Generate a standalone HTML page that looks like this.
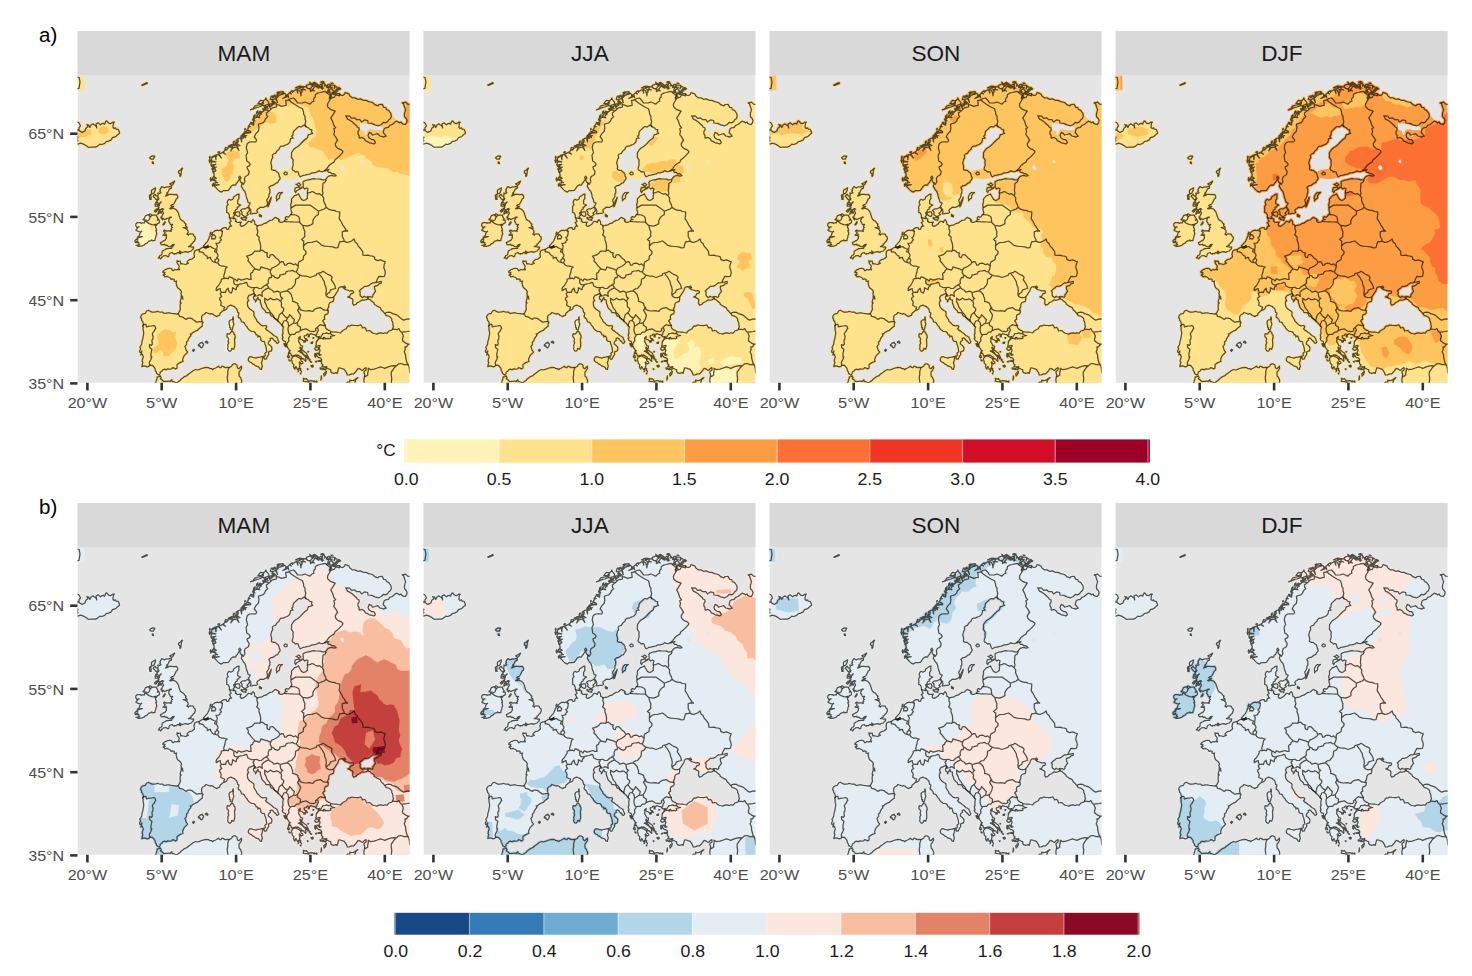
<!DOCTYPE html><html><head><meta charset="utf-8"><title>Seasonal maps</title>
<style>html,body{margin:0;padding:0;background:#fff}body{width:1472px;height:976px;overflow:hidden}svg{display:block}text{font-family:"Liberation Sans",Arial,Helvetica,sans-serif}</style></head><body>
<svg width="1472" height="976" viewBox="0 0 1472 976">
<defs>
<path id="land" d="M100.2,238.3 99.1,238.7 96.7,238.2 94.2,238.1 91.9,237.5 90.2,237.4 88.6,237.7 86.7,238.1 84.9,236.7 82.8,236.8 81.7,236.6 80.1,235.9 78.2,236.5 76.8,236.7 74.4,236.7 72.2,235.6 70.9,234.8 69.1,235.6 67.9,237.7 67.4,238.3 66,238.3 64.7,238.9 63.6,240.5 63.1,242.1 64,243.2 64.2,245.2 65.2,246 65.7,248.1 65.9,249.6 65.1,250.8 65.9,252.5 65.4,253.9 65.9,255.5 66.2,256.8 66.1,259 65.7,261 65.3,263.2 64.9,264.7 64.4,266.5 64.2,268.5 63.4,270.4 62.5,271.8 63.2,273.6 62.4,274.7 62,276.5 63.4,277.4 64.4,275.5 63.9,278 63.2,279.5 64.9,278.9 65.4,280.5 65.8,282 65.1,283.4 64.7,285.8 65.4,287.2 64.8,288.8 64.4,291.2 66.4,290.5 67.9,290.7 69.7,291.4 71.4,290.9 72.4,289.9 74.6,289.7 75.6,290.6 76.6,291.8 77.6,293.2 77.8,295.3 78.8,296.4 79.1,298 80.2,298.9 81.3,299.7 82.5,298.4 82.8,296.6 84.3,295.9 85.7,294.1 87.1,293.7 88.8,294.4 90.2,293.5 91.7,293.7 94.2,293.4 95.1,292.2 96.9,292.8 98.1,293.7 99.6,292.6 99.6,291.4 99.5,289.2 101.1,288 102.5,287.2 103.6,286.8 105.6,286.1 105.2,284.8 105.3,283.4 106.1,281.5 106.7,280.2 108.6,278.4 110.2,276.7 108.6,274.7 108,272.3 107.4,271 109.1,269.2 109,266.6 110.3,265.6 111,263.5 112.2,261.5 113.4,260.4 112.8,258.5 114,258.6 115.2,257.2 117.7,255.8 119.9,254.9 121.2,253.6 122.9,252.2 124.9,250.6 124.7,248.5 125.5,247.1 124.8,246.2 124.1,243.9 124.2,242.5 124.2,241 125.2,239.6 126.4,239.1 127.4,238.4 128.4,237.1 129.9,237.6 131.6,238.3 133.1,238.7 134.1,238.1 135.6,238.9 136.8,240.1 138.4,240.7 139.5,241.2 140.8,240.2 142.2,239.7 142.5,237.9 143.8,236.8 145.1,235.6 146.4,234.9 147.6,234.6 149.4,233.3 149.9,231.5 151.1,230.6 153.3,229.7 154.9,230.4 157,231.2 157.8,232.4 159.1,233.1 159.6,234.5 160.1,236.8 161.4,237.7 161.1,239.3 160.6,240.9 161.1,242 162.3,242.7 163.3,244.1 164.1,246.4 165.8,246.8 166.9,247.7 167.5,248.9 168.6,250.4 169.7,251.6 170.3,253 171.6,254.3 172.9,255.3 173.7,256 176.3,256.1 177.9,257.6 178.8,259.5 179.7,259.4 180.7,260.6 180.1,261.6 182.3,260.7 182.9,262.2 183.4,263.3 183.2,264.5 184.8,266.1 186.6,266 187.2,267.1 187.4,268.9 188,269.9 188.5,271.7 188.8,273.2 188.9,274.3 189.3,276.4 187.5,277.9 187.9,279.7 186.6,281.2 186.6,283 187.1,283.6 188.7,283.6 189.5,282 189.8,280.9 191.2,279.3 191.1,277.2 191.6,276.2 193.8,275.5 194.3,274.5 194.4,272.6 194.1,271.4 192.3,269.7 190.8,268.6 190.9,267.2 191.3,266 193,264.9 192.6,263.2 194.5,262.5 195.8,263.9 196.9,265.2 198.2,266 199,267.6 200.2,268 201.4,266.5 200.7,265.1 200,263.2 199.3,261.9 198,260.9 196.6,260.3 195,258.9 194,257.9 192.7,257 191,255.7 189.3,254.7 188,253.1 189,252.3 189.2,250.7 187.9,250.1 185.6,250.4 183.4,249.7 182,248.2 180.9,247.1 179.5,245.8 179.1,244.5 178.2,243.1 176.4,240.2 176.5,236.8 176.1,236.2 174.5,235.1 173.5,234.3 172.6,233.8 171.4,232.6 170.3,231 169.9,228.5 170,226 171.3,225.2 170.8,224.3 170,222.8 170.8,221.2 171.6,219.8 173,219.8 174.2,218.9 176.2,218.3 177.3,219.3 177.1,220.2 176.1,221 176,222.6 176.6,224.1 178.1,224.7 177.9,226.5 178.9,225 179.7,223.1 180.6,222 180.9,224.1 182.9,224.8 182.9,227.3 183.6,229.1 184.1,230.6 184.5,232.1 186.1,233.9 187.8,235.3 188.4,237.2 190.5,237.2 192,237.4 192.8,238.9 193.8,240.7 195.4,241 196.5,242.4 197.7,243.3 198.7,244.3 200.1,245 200.5,246.2 200.9,246 202.2,247.4 203.7,249 205.1,251 206.1,251.4 205.5,253.5 205.4,255.4 205.3,256.9 205.7,258.1 204.8,259 205,260.6 205.6,262.6 204.7,263 205.3,264.7 206.2,265.5 207.7,265.9 208.2,267.5 208.2,269 209.5,270.5 210.4,272.6 211.3,273.8 211.9,275 212.9,275.3 211.8,276 212.2,277.2 213.5,278.6 213.9,280.4 215.3,280.3 217.3,279.9 218.4,279.4 220.1,280.1 220.2,279.4 221.6,280.5 223.1,281.4 224.1,282.4 223,283.4 221.6,282.4 219.6,281.4 217.4,280.3 216.8,280.9 215.1,281.4 214.5,282.5 213.8,283.6 214.7,286 214.7,287.7 216.5,289.3 216,291.4 216.6,292.8 217.5,293.7 217.8,291.8 218.6,291.2 219,292.3 219.8,293.8 221,294.7 220.5,296.4 221.2,295.2 220.9,293.3 222.1,293 223.3,295.1 224,296 222.8,294.9 223.3,293.4 221.8,292.1 222.5,290.1 222.2,288.2 221.7,287 222.1,286.6 222.9,287.5 223.8,288.7 225.5,287.6 224.9,286.4 223.8,285.9 223,283.9 224.8,283.3 226.2,283.5 226.8,284.7 228.2,285.9 228.4,284.7 228,282.9 228.3,281.6 227,280.4 226,279.4 224.5,278 222.6,276.5 220.8,275.8 222.8,275.1 223.3,273.9 222.3,272.6 222.8,271.7 224,273.7 224.8,273 225.1,270.8 223.3,270.1 222.3,268 221.1,266 221.5,263.9 221.1,262.6 222.8,261.1 222.3,263 223.3,263.8 224.8,264.5 226,265.4 226.5,267 227.3,265.1 227.9,266.6 228.3,264.3 230,265.3 229.2,263.5 227.5,262.9 226.7,261.8 226.8,260.4 228.5,260.1 230,258.6 232,259.3 233.5,258.1 235.4,259.1 237.3,259.3 238.2,260.3 239.4,261.4 241.9,261.1 240.9,262.6 240.5,264.3 238.8,266 240.2,264.5 241.4,262.9 243.4,261.3 244.6,259.6 245.4,258.2 247.6,258.1 249.1,257.5 250.8,258.2 252.7,258 253,257.1 253.3,256.2 252,255 250.8,254.9 249.8,254 248.3,252.8 247.7,250.7 248,249.9 247,249.2 246.6,247.4 245.2,245.6 246.4,244.1 247.3,243.9 246.8,241.7 247.4,239.7 248.5,239 250.2,238.4 250.8,236.8 250.7,235.2 250,233.7 251.1,231.7 251.3,230.2 251.4,228.8 252.3,227.3 254.4,226.4 255.8,226 256.3,223.5 256.3,221.4 257.9,219.3 258.7,217.7 260.2,215.8 260.8,214 261.4,212.4 262.5,211.6 263.7,211.3 265.4,211.4 267.2,210.6 268.2,212.3 265.7,212.3 267,213.5 268.7,214.4 270.2,214.6 272.1,215.6 274.1,215.2 275.8,215.6 276.1,217.3 274.8,218.2 273.6,218.1 272.1,220.8 270.1,221.6 272.1,222 273.2,222.7 274.5,223.2 275.4,224.2 275.3,226 275.1,228.1 276.2,229.8 278.4,229 279.6,227.5 281,226.8 282.4,226.1 284.4,224.5 286.5,224.8 288,224.5 289.7,223.9 290,221.8 290.6,221 289.4,221.7 287.5,221.4 286.7,220.8 285,222.3 284,221.4 282.8,220.4 282.5,218.5 282.8,216.8 281.8,215.6 283.5,213.9 285.5,212.3 286.9,211 288.5,211 289.7,210.8 291.5,210.2 293.4,208.5 295.2,207.3 296.6,207.6 298.4,207.1 300.4,206.8 301.9,206.4 303.8,206 303.8,207.7 302.6,208.3 301.4,208.5 300.3,210 298.7,210.4 296.9,211 297,213.2 298.1,216 296.8,217.3 296.4,218.5 295.4,219.3 295.4,221 294.3,222.1 293,221.3 291.7,221.2 290.7,222.3 291.2,223.9 292.4,223.9 293.9,225.6 295.3,226.5 296.4,227.3 297,229.1 298.4,229.8 300.1,231 302.7,232.2 303.7,234.4 305.9,236.4 307.1,237.9 308,239 308.8,240.2 310.4,240.4 312.3,241.4 313.5,242.5 314.3,243.5 314.2,245.1 315,246.4 315.5,248.5 315.4,249.7 316,251.4 315.4,252.6 315,253.7 314.3,254.7 311.3,255.6 309.8,257.8 307.4,257.4 305.9,258.1 304.5,257.7 303.4,257.4 301.1,257.7 299.4,258.7 296.9,258.1 295.4,257.7 293.9,256.8 292.9,255.4 291.5,255.1 289.1,255.6 288.3,253.3 287.2,252 285,252.6 284.4,251.1 283.3,249.5 281,250.1 278.6,250.1 276.4,249.9 274.1,249.6 272.1,250.7 270.8,250.5 269.5,251.8 268.8,253.4 266.7,254.3 264.7,255.6 263.2,257.4 261.2,257.1 258.7,256.6 257.1,256.8 255.8,256.6 253.5,256.2 253.1,257.2 252.9,258.1 254.8,259.7 257.3,260.1 255.3,260.6 252.8,261 253.5,262.8 252.2,263.2 250.3,263 248.8,263.2 247.7,263.5 247.3,262 245.9,262.2 246.3,263.7 244.4,263 242.6,263 241.3,263.5 239.9,265.1 238.9,266.4 238.8,267.6 238.7,269.3 238.2,270.7 240.4,270.5 242.6,269.9 242.4,271.2 241.4,272.2 242.3,274.1 242.5,275.3 241.6,277.4 242.6,279.3 243.6,279.5 241.9,279.9 240.9,278.4 239.7,277.6 239.1,278.9 239.4,280.4 240.9,282.2 242.1,282.2 243.6,283.2 244.2,284.2 243.9,286.4 244.1,288.4 245.6,289.5 244.4,291.2 245,291.1 247.3,291.4 249.3,291.1 248.5,292.2 246.8,292.2 245.4,293.7 244.7,294 246.4,294.3 247.8,293.7 248.1,294.7 249.2,292.6 250.3,293 251.8,293.8 253.3,294.5 253.2,295.9 254,297.2 256,298 257,297.7 258.5,297.2 259.7,298 260.2,296.1 260.6,294.7 261.2,292.4 262.7,292.6 264.6,293.3 266.8,293.9 267.7,295.2 268.5,296.5 269.1,297.4 269.8,299.6 271.9,299.5 274.1,298.5 276.1,298.6 277.3,297.3 278.2,296.4 279.1,295.1 279.8,294.2 280.7,293 283,293.8 284.4,295 285.9,294.4 286.5,293.3 288.5,292.2 288.7,293.6 288.3,294.8 286.8,295.8 286.4,297 287.2,299 287.1,300.3 286.7,302.4 286.4,303.7 286.5,306.2 287,308 286.8,309.8 287.2,312.2 339.5,312.2 339.5,33.3 336.5,31.5 334.6,30.4 332.7,29.1 330.1,28.7 328.1,26.7 324.7,27.5 326.3,28.5 326.6,30.4 327.3,32.2 328.1,34.1 327.6,36 327.1,37.5 326.9,40 327.2,41.6 328.6,42.9 329.6,45 329.1,47.4 327.6,49.1 325.7,48.7 324.2,47.8 323.7,46.6 321.8,47.4 320.7,46.4 318.7,45.8 316.5,47.6 314.8,49.1 312.3,50 310.8,52 308.3,52.4 306.8,53.3 306.1,55.4 305.7,57.3 306.8,58.3 307.5,59.3 308.8,60.8 307.1,61 306.3,61.8 304.4,61 302.4,60.6 300.2,58.2 297.4,59.1 295.1,59.7 293.9,57.9 291.7,57 291.3,58.4 290.5,59.9 291.4,62.4 292.9,63.3 294.1,64.1 295.9,64.1 297.1,65.3 297.9,67.4 296.3,68.6 293.9,67.8 291.9,67.4 290,66.2 288,65.5 287,63.7 284.6,62 282,62.8 281.5,62.2 281.7,60.2 280.6,58.7 280.4,56.3 281.5,54.9 281.6,52.6 279.6,51.6 279,50.4 277.6,49.1 275.6,47.4 274.6,46.3 272.6,45 270,43.7 268.2,40.4 272.2,40.7 274.1,42.9 277.3,42.5 279.1,44.3 282.4,44.3 284,46.6 287.1,44.5 290.2,45.1 290.5,47.6 294.4,48 297.4,49.5 301.2,50.4 303.8,49.1 306.1,46.9 308,47.5 310.3,46.2 311.1,44.5 312.8,43.3 313.5,42 313.8,40.8 313.4,38.2 312.3,36.6 311.1,35 308.8,34.1 308.4,32.1 306.3,32 304.7,29 301.8,29.1 300.4,30.4 297.8,29.5 294.9,27.1 291.2,26.2 288.5,25 285.6,24.9 283,23.5 280.1,23.9 277.6,22.5 275.1,22.5 273.1,21.2 272.1,20 271.6,18.7 269.4,17.7 267.7,17.1 266.7,19.1 265.3,20.1 263.7,20 262,18.3 260,18.2 258,18.9 256,19 254.7,18.1 251.9,22 253.9,17.7 254.3,17.9 251.7,17.6 251.3,16.5 249.1,16.8 251,15.6 250.8,15.2 253.7,13.3 253.4,13.1 254.7,11.8 254.1,13.7 256.5,16.1 257.1,16.3 259.5,13.3 257.9,16.7 258.9,17.1 260.7,14.6 261,14.5 260.7,12.8 261.8,14.1 261.8,14.1 263.2,13.6 262.4,12.8 259.4,14.4 261.8,12.2 261.7,12.1 259.2,11.7 258,10.8 256.5,13.5 257.3,10.2 256.8,9.9 253.3,9.6 253.7,9.7 250.7,13.4 252.8,9.4 251.8,9 250.3,9.2 249.8,10.4 249.6,11 254,12.1 249.4,11.9 249.3,12.1 248.6,10.2 248.1,9.6 246.9,10.6 247.5,8.9 247.3,8.7 246.1,7.2 244.9,8.8 244.8,8.8 244.9,13.7 243.9,8.8 243.4,8.7 241.6,10.3 241.5,10.5 246.3,12.8 241.5,11.4 241.4,12.9 241.6,11.6 238.3,10.8 241.8,10.7 241.8,10.5 240.4,9.2 240.2,9.1 239.2,11.1 239.5,8.6 239.2,8.4 237.7,8.7 237.5,9.9 239.8,11.9 237.3,10.8 237.3,11.1 235.5,13.7 235.1,14.1 236.8,15.6 234.4,14.8 233,16.2 232.9,13.4 232.7,13.7 230.1,13.1 233.2,12.9 234,11.7 235,10.8 232.2,6.8 235.7,10.3 235.7,10.2 236.8,7.5 236.8,7.6 238.7,8.6 236.2,8.2 234.9,9.7 232.5,8.3 232.9,8.1 234.4,9.9 232.1,8.6 230.9,9.3 229,10 228.7,10.6 230,13 228.3,11.4 228.4,11.4 226.4,11.2 225.6,12.9 225.2,13.4 228.1,14.6 224.6,14.1 224.5,14.2 224.7,15.2 224.4,16.9 223.8,16.8 223.5,20.4 222.9,16.6 222.7,16.6 221.6,14.6 220.1,14.2 220,14.2 220.4,17.8 219.1,14.2 218.6,14.2 216.5,15.7 215.4,15.5 215.1,17 214.5,15.4 214.6,15.4 213.1,16.4 212.5,17 213.9,18.6 211.9,17.6 211.7,17.8 210.7,18.7 210.4,19 211.2,22.2 209.8,19.7 209.7,19.7 209.2,21.6 209.1,21.5 205.4,23.1 208.6,20.8 208.2,20.2 207.7,18.3 206.8,17.8 205.4,18.9 206,17.4 206.1,17.5 204.2,18.3 203,19.6 202.1,19.5 199.9,21.9 201.3,19.4 201.4,19.4 199.8,20.8 198.8,22.3 198.7,22.3 200,27.2 198.1,23 197.8,23.3 195.8,23.9 195.2,25.1 198.8,28 194.8,25.9 194.8,25.8 195.4,27.3 195.4,29.7 195.4,29.7 192.4,31.7 194.7,29.1 193.8,28.3 192.2,28.9 192.7,33 191.3,29.1 191.3,29.1 190.8,30.4 189.3,31.6 189.5,31.3 190.6,33.1 189.1,32.1 188.6,33 186.4,32.9 186.6,33.8 190.8,35 186.9,34.6 186.9,34.8 184.9,36.6 184.5,36.5 181.8,40.6 183.7,36.2 183.7,36.2 182.4,35.8 181.9,36.7 183.8,38.8 181.5,37.5 181.6,37.3 180.4,39.3 179.3,40.4 179,40.9 182.3,42.3 178.6,41.7 178.4,42 176.8,43.2 176.2,43.4 177.4,45.6 175.4,43.6 175,43.7 175.8,45.9 176.5,47.4 176.4,47.4 176.1,49.7 175.5,47.4 174.6,47.3 173,47 173,47.1 175,49.4 172.7,47.9 172.5,48.6 171.7,49.8 171,50.7 172.8,51.2 170.5,51.5 170.8,51.1 171,52.4 169.5,54.4 169.6,54.1 173.1,56.2 169.3,55 168.9,56.2 168.7,56.9 173.2,57.2 168.4,57.8 168.5,57.4 166.1,57.6 166.2,57.5 168,62.3 165.6,58.2 164.8,59.4 165.9,61.3 165.9,61.3 169,60.2 166,62.2 166.1,62.7 164.3,62.5 164.1,62.5 164.1,66.5 163.2,62.6 161.6,62.8 160.6,63.4 160.7,66.6 159.8,63.9 159,64.3 158.6,66.6 158.4,67.3 162.5,70.3 158.1,68.2 158.2,68 157.1,69.5 157.6,69.6 160.8,65.8 158.4,69.9 159.1,70 160.6,71.3 159.9,71.5 161.5,75 159,71.7 159.2,71.6 157.6,72 155.6,72.2 155.9,72.3 153.3,75.4 155,72 153.7,71.6 152,72.1 150.7,72.4 151.1,72.5 149,74.8 150.2,72.4 148,72.1 147.4,74 147.4,73.8 149,74.7 147.1,74.7 146.7,75.9 145.4,76.6 148.1,78.8 144.6,77.1 144.5,77.1 143.3,78.1 141.8,77.8 141.2,78.9 141.6,78.8 143.9,82.6 140.7,79 139.5,79.3 138.7,79.5 138.4,84.2 137.9,79.8 137.5,79.8 136.3,80.7 134.3,81.6 134.3,81.4 139.3,80 134.3,82.3 134.1,84.1 134,85.5 138.4,86.5 134,86.4 134,86.6 133.4,89.1 133.5,89.6 138.4,88.9 133.8,90.5 133.8,90.7 135.3,91.3 136.8,90.7 136.2,91.2 137.9,94.2 135.5,91.8 135.3,91.9 134.3,93.6 134.5,93.8 138.8,91.6 135,94.6 135.2,94.9 135.4,96.6 135.3,96.5 138.5,95 135.8,97.3 136.4,98.1 136.8,99.9 136.1,100.9 138.8,102.9 135.6,101.6 135,102.5 135.1,103.5 137.5,103.7 135.1,104.4 135.2,104.8 136.8,105.3 138.3,105.3 138.1,106.1 140.1,107.3 137.9,107 137.9,106.9 137.4,108.5 137,109.6 141.7,109.3 136.7,110.4 136.6,110.7 137.7,111.6 138.8,112.8 140.1,114.2 141.8,115.7 144,116.7 145.9,115.2 148.7,115.3 150.9,114.9 152.5,112.7 153.7,110.9 155.6,109.5 158.2,109.7 158.8,107.8 160,107 160.6,105.7 162,103.8 161.3,102 162.3,100.7 163.5,102.6 162.1,104.1 162.6,105 163.2,106.6 164.3,107.4 164.4,108.7 163.8,110.9 164.8,112.4 165.7,114.3 167.4,115.8 167.8,117.4 168.4,119 168.8,121.5 169.4,123 169.8,124 170.6,126.9 172.7,127.6 172,129.4 170.8,130.7 172,132.8 173.1,134.4 173.5,136.5 172.6,138.4 174.2,138.4 176.3,138 177.5,137.9 179.3,137.7 180.2,136.9 179.4,135.3 179.9,133.8 181.5,133.1 182.7,131.8 184.9,132 186.3,131.9 188.6,130.7 189.8,129.5 190.1,127.7 189.2,124.7 190.6,122.6 191.5,120.7 191.5,118.5 192.4,117.6 192.3,115.7 192.4,114.1 191.3,112 193.3,110.3 194.7,110.2 196.3,109.5 198.3,107.8 200.2,107.3 200.7,105.7 201.6,104.8 202.7,103.2 202.4,101.8 201.7,100.7 201.5,99 200.5,97.1 199.2,96.5 197.8,94.9 196.2,95 194.1,94.2 193.9,92.8 194.3,91.6 193.7,89.1 193.2,87.6 193.8,85.5 194.2,83.7 195.3,82.4 194.8,80 195.8,78.6 198,78 199.1,76 200.3,74.9 201.7,73.7 201.8,72.5 203.5,70.8 205.7,70.8 207.7,69.7 209.7,69.1 211.4,67.8 212.6,66.2 213,63.1 215.6,62.8 214.1,60.8 215.5,59.7 215.6,57.4 216.1,55.8 217.6,54.5 218.8,53.4 219.8,52.4 221.1,51.2 222.5,51.3 223.8,51.6 226.6,49.6 228.8,51.6 230.7,52.2 232.4,54 234.5,54.5 233.9,56.5 235.2,58.1 233.6,58.5 232.5,59.1 230.8,59.3 230.3,60.9 229.7,62.6 227.5,64.1 225.7,65.9 223.7,67.9 222.1,69.7 220.6,70.8 219.6,71.6 218.1,72.4 216.1,74.1 214.9,75.9 214.1,77 214,78.7 214.1,80.1 213.8,81.7 215.1,83.7 215.8,84.9 215.4,86.6 215.8,89 215.4,90.5 215,91.8 214.6,93.2 215,94.5 216.6,95.3 218.1,96.7 219.4,96.1 220.7,96.7 221.1,98.2 221.7,99.9 222.8,101.4 224.4,100.6 225.5,99.9 227.3,99.8 229.5,99.2 231.5,98.8 232.7,98.5 234.6,97.4 236.2,97.4 238.2,96.9 239.9,96.4 241.3,95.2 242.6,96 245.2,96.3 246.8,95.3 248.2,95.4 249.8,94.5 251.6,94.1 250.1,95.1 250.8,96.9 252.7,96.9 254.3,98.4 256.2,98.2 257.3,99.1 258.7,100.3 256.6,100.7 254.9,100.3 253,100.3 251.4,100.7 250.3,101.4 249.3,102.6 248.1,104.3 246.1,104.4 244.9,104.5 243.2,103.8 240.4,103.6 237.9,103.5 236.4,103.2 233.9,103.8 231.7,104.5 230.1,104.5 228.3,105.1 226.5,105.8 225.5,106.6 225.7,108.6 225.8,110.1 225.5,111.8 227.3,113.6 229,112.6 230.5,113.4 230,115.7 229.7,117.6 230.3,119.2 229.7,120.3 230,122.8 228,124.4 226,125.1 224,124 223,122.3 222.3,121.1 221.6,119.8 221.1,118.5 219.4,119.4 218.1,119.9 216.8,120.5 215.9,121.5 213.9,123.7 214.1,125.7 213.9,127.5 213.1,129 213.6,131.1 213.4,133.9 213.8,135.7 214.4,137.4 213.9,138.6 212.9,139.2 211.8,141.1 210.7,141.9 209.1,141.2 207.8,141.8 207.9,143.6 209.7,144 207.7,144.6 206.4,146.1 204.7,146.9 203,146.9 201.5,146.3 201,144.8 202.2,144.8 200.3,143.2 197.7,142 196,143.4 194.9,144.6 192.6,145 190.3,146.3 188.5,147.8 186.2,148.3 184.6,149.4 181.9,150 179.7,150.5 178.4,149.4 177.2,148.8 177.2,147.3 176.7,145.5 175.6,144.2 174.5,145.3 173.9,147.1 172.6,146.1 171,145.9 169.7,147.1 168.9,148.3 167.4,149.4 165.8,150.5 164.4,151 163,150.2 162.6,149 163,148.1 163.8,146.7 161.6,146.9 159.4,147.1 158.6,145.7 157.9,145.9 158.4,143.6 157,143.3 155.8,143.2 156.6,142.3 155.7,141.2 157.1,139.8 156.6,138.9 156.1,137.4 157.4,136.5 158.1,134.4 159.9,133.6 159.6,131.9 161.1,131.5 162,129.9 163.2,129.8 162.3,129.1 160.6,128.6 160.1,128.2 160.3,125.7 160.1,124.9 161.5,123 161.3,121.2 161.6,118.7 159.7,119 158.4,120 156.2,121.5 155.6,123.6 153.3,124.8 151.7,123.9 150.7,124.6 149.9,126.1 149.7,127.4 150.6,129.4 149.2,130.7 149.2,133.2 149.3,135 149.1,136.9 150.9,137.6 151.9,139.8 151.9,142.3 152.6,143.2 152.9,144.8 153.7,145.9 151.7,147.3 152.9,148.8 153.2,150.3 154.2,150.7 152.2,150.9 151.2,152.8 151.5,153.6 150.2,154 149.2,153.8 148.7,152.3 146.7,152.3 144.5,153.2 144,154.8 144.7,155.7 143.4,155.4 142.9,154.4 141.2,155.3 139.8,154.7 137.3,155.4 135.8,156.7 134.6,157.7 135.2,159 136.8,159.4 138.3,161.5 137.3,163.6 136.1,163.2 134.3,163.6 134.1,161.1 135.3,160.2 133.8,158.7 132.6,158.5 132.6,160.4 131.8,161.5 131.6,162.7 130.9,164.1 130.2,165.7 129.4,166.7 128.2,168 127.4,169 126,170.4 126.9,171.1 128.9,171.5 128,172 125.8,171.7 124.9,172.1 123.5,172.9 121.8,174 120.8,174.4 119.4,174.5 118.2,175.1 116.9,175.9 117,177.1 116.5,178.6 116.8,179.8 117,181.5 115.7,182.6 114.4,183.7 112.4,183.9 110.9,185.1 109.9,185.8 109.5,187.4 111,187.7 109.4,188.5 107.8,189.1 106,188.6 103.8,188.2 103.3,188.5 102.8,186.5 102.8,185.6 101,186 99.4,185.4 99.6,187.2 100.1,188.4 101.3,189.8 101.8,191.1 101.1,192.8 102.1,194.4 99.9,194.1 99,194.4 97.5,194.1 95.6,195.4 94.7,194.6 93.9,193.1 91.9,193 90.2,193.1 89.3,193.7 87.6,194.2 86.5,195.2 85.4,196 85.4,197 87.5,196.9 86.5,197.7 87.7,199 85.6,199.5 86.6,200.3 87.4,201.4 89.6,200.9 90.9,201.6 92.3,202.1 93.6,203.9 94.9,203.5 96.7,203.9 96.6,205.7 98.1,205.9 99.1,205.6 98.6,207.2 98.9,208.9 99.4,210.7 100.2,212.3 102.1,213.8 103.3,215.1 104.1,216.8 103.3,218.1 103.9,219.6 104.3,221.3 105.6,223.7 105,222.7 105.1,221 103.8,220 103.7,222.9 103.1,224.8 102.7,226.5 102.9,227.8 103.8,227.5 102.9,228.5 102.7,229.8 102.6,231.4 103,233.8 101.9,236 101.3,237.4ZM250.3,14.6 251.9,15.3 252.6,16.8 251,16.1ZM254.9,16.8 256.4,16.9 257.5,17.9 256,17.8ZM255.6,8.3 254.4,8.3 253.5,7.6 254.7,7.6ZM246.6,6.7 244.9,7.3 243.2,6.7 244.9,6.1ZM240.1,10.5 240.4,11.5 240,12.4 239.7,11.4ZM243.8,13.3 243.6,12.3 244.1,11.4 244.3,12.4ZM235.9,7.6 236.3,9.4 235.4,11 235,9.2ZM234.3,15.5 234.5,14.4 235.4,13.6 235.1,14.8ZM223.4,10.9 223,12 222,12.5 222.4,11.4ZM225.2,14.7 224.2,14.8 223.4,14.3 224.4,14.2ZM209.8,20.8 209.1,20.3 208.9,19.4 209.6,19.9ZM202.7,17.6 201,18.1 199.5,17.3 201.1,16.8ZM197.6,19.7 196.8,21.5 195.1,22.4 195.8,20.6ZM197.3,28.8 195.4,28 194.4,26.2 196.3,27ZM188.4,29.9 188.2,31.3 187.1,32.3 187.3,30.8ZM185.4,32.9 186.1,33.8 186,35.1 185.3,34.1ZM180.5,35.4 180.3,37.2 178.9,38.4 179.2,36.6ZM177.6,39.3 177.4,41.2 176,42.4 176.2,40.6ZM167.8,53 167.8,53.8 167.2,54.5 167.2,53.6ZM167.8,55.8 167.9,57.4 167,58.7 166.8,57.1ZM163.9,59.9 164.6,61.4 164.2,63 163.4,61.5ZM156.7,65.5 156.8,67.1 155.9,68.4 155.7,66.8ZM157.1,70.4 155.1,70.5 153.5,69.2 155.5,69.1ZM142.2,76.4 141.3,77 140.3,76.9 141.2,76.3ZM132.4,80.8 132.7,82 132.2,83.1 131.9,81.9ZM132.3,83.6 132.9,85.4 132.2,87.1 131.6,85.3ZM133.2,102.3 134,104 133.5,105.8 132.7,104.1ZM136.1,107.7 136.1,109.4 135,110.6 135,108.9ZM80.8,182.6 81.8,181.3 82.6,180 83.9,179.6 84.5,178.6 84.7,175.8 86.6,174.6 88.2,174.1 88.7,173.1 90.4,173.2 91.8,173.1 94.2,173 94.3,171.9 95.7,170.6 96.7,169 95,169.2 94.3,170.2 93.3,171 92.7,171.6 90.7,170.9 89.5,169.8 87.7,170.1 87.2,168.7 85.8,169.3 83.8,169.4 82.8,167.3 84.4,166.5 85.9,165.5 87.4,164.9 88.8,163 89,160.5 88.6,158.8 87.5,160.1 85.5,159.8 86.7,158.8 87.7,157.1 86,155.7 87.2,154.7 89,155.7 90,155.4 91.7,155.5 93.7,156.1 93.2,154.8 94.2,154.4 93.9,152.8 94.9,152.1 93.9,151.3 94.1,150.5 95.2,149 92.9,149.2 92.3,147.5 91.1,145.7 91.4,144.4 92.2,142.6 93.9,141.8 92.7,141.6 91.2,142.6 89,143.3 87.2,144.2 85.3,142.8 85,144.6 83.7,142.8 83.5,141.5 84.1,141.9 85,139.5 86,137.7 85.2,136.2 84.8,134 86.2,133.8 84.8,133.2 83.5,134 82.8,134.4 82.5,136.5 81.5,138 80.4,139 80.8,136.5 82,134.3 80.8,134 81.4,132.4 81.2,130.8 81.9,129.8 82.2,127.6 83.8,126.4 82.9,127.6 81.3,128.6 80.2,127.1 78.2,127.1 79.2,126.4 80.2,124.9 81.5,123.2 80.7,122.5 80.2,121.3 80.8,118.8 80.3,117.7 82.2,118 83.5,117.4 82.3,116.1 83,115.3 82.4,114.4 83.4,112.7 84.3,111.3 85.5,111.8 87.1,112.4 89.1,111.5 91.6,111.5 92.3,111 94.1,111.2 93.8,112.9 92,113.4 91,115.5 90.3,116.9 89.2,117.6 90.3,117.6 89.1,119.2 88.1,120.7 89.9,120 91.7,119 92.8,118.9 94.3,119 96.6,119.3 99.1,119 100.2,120.7 100.2,122.6 98.7,123.6 98.1,125.2 96.9,127.4 96.3,128.6 94.3,129.4 93.2,130.1 94.8,131.2 96.2,130.9 94.8,131.8 93.4,132.3 92.2,133.2 93.3,133.4 95.6,132.7 96.6,133.2 98.4,133.9 99.1,135.1 100.1,135.9 101.1,138.3 101.6,140.4 102,141.3 102.3,142.3 103.2,144.1 103.8,144.7 106,145.8 107.1,147.5 108.7,148.8 108.1,149.2 108.2,150.7 109.4,151.4 109.6,153.3 107.4,152.1 105.6,152.3 108.1,152.9 108.9,153.5 110.4,155.3 110.7,157 109.3,158.7 111,159.8 111.5,158.6 113.3,158.4 115.5,158.7 116.5,160.5 117.7,161.5 117.8,162.5 117.8,163.7 117,165.2 116.9,165.8 115.5,166.9 114.7,168.3 113.5,168.7 113.8,169.8 112.5,170.4 110.9,171.1 112.8,171.1 114.2,171.8 116.2,171.6 116,173 115.6,173.7 114.9,174.1 113.9,175.6 111.9,176.1 110.3,177 108.4,176.3 106.7,176.4 105.1,177.1 103.6,176.6 102.1,175.6 102.6,176.3 101.4,176.9 99.8,177.1 99.4,178.1 96.9,178.1 96.9,178.9 95.5,178.1 94.5,177.1 92.1,178.1 91.6,179.4 91.4,180.3 91,181.3 89.9,181.2 88.5,180.1 86.1,180.4 85.3,181.3 84,182 83.3,183.5 81.6,182.1ZM72.5,138.4 74.7,139.6 73.1,141.1 74.6,139.9 76.1,139.8 78.1,139.8 79,139.8 79.1,140.8 80.3,142.7 80.8,143.2 80.3,143.9 79.8,144.7 80.9,144.3 81.6,144.5 82,145.8 81.9,147.1 81,148 79.9,148.2 79.4,149.3 78.1,149 78.8,150 77.6,149.8 78.2,151.5 78.1,152.2 78.8,153.3 79.1,155 78.3,155.3 78.9,156.5 79.3,158.5 78.6,159.9 78.3,161.8 77.6,163.7 77.5,165.1 76.3,165.1 74.7,165.5 74.4,164.4 73.6,165.2 71.4,165.8 70.1,167 69.4,168 68,168.2 66.8,169.8 64.7,170.4 62.6,170.9 60.4,171.1 61.2,170.2 62.2,169.2 60.4,169.9 58.5,170 60.4,170 61.6,167.5 60,167 57.7,167.3 58.9,166.3 60.5,165.7 58.4,166.9 57.2,165.7 58.5,164 60.2,164.2 59.7,163 62,161.7 63.3,161.7 64.9,161.1 63,161.3 61.2,161.9 59.8,161.8 61.2,160.8 62.2,159.4 62.1,158.6 63.1,156.9 64.2,155.9 63.2,156.5 61.5,156.2 60.2,155.7 58.3,154.8 59,154 60,153 60,151.8 61.7,151.5 59.4,152.2 58.2,150.1 58.4,148.3 59.5,147.3 60.4,147.1 62.7,147.1 63.7,148 64.7,147.4 66.9,147.5 67.2,145.9 68,145.8 68.8,144.6 67.2,144.7 65.4,144.3 65.7,143.8 66.9,143.3 67.2,141.9 68,140.3 69.5,139.7 71.2,139.2 71.6,140.7 72.1,140.5 71.9,139ZM-3.5,68.3 -1,66.5 0.5,65.3 -0.5,64.1 0.5,62 -2.6,60.2 -5.4,63.2 -7.7,61.3 -9.9,59.5 -6.5,59.3 -3.5,57.9 -1.8,56.3 1,54.5 -1.5,53.4 -4.9,53.2 -9.2,53 -12.4,54.1 -11.1,52.4 -9.4,49.9 -7.9,48.7 -5.5,49.1 -3.9,47.2 -2,46.2 1.2,47.1 3,50.4 1.5,52.4 1.6,55.1 4.5,57 7.4,55.6 8.4,52.8 10.4,51.3 9.4,49.1 11.2,49.7 12.4,52 13.6,49.6 15.4,48.4 16.6,49.3 18.5,50.5 19.3,52.6 18.9,50.4 18.6,48.7 20.6,47.4 23,49.5 24.3,48.3 25.9,48 27.3,48.7 27.5,47.4 28.7,45.5 30,46.2 31,47.7 33.1,48.3 35.1,46.8 36.9,46.8 36,47.8 35.7,49.7 35.5,52 36.8,53.1 38.2,52.4 38.6,53.8 40.6,53.9 41.7,56 42.1,57.6 41.1,58.7 39.6,59.8 38.3,61.2 35,62.2 33.7,64.5 31.1,65.7 28.7,66.2 27.7,67.5 26.5,68.3 24.4,69.1 22.3,68.7 20.2,70.7 17.9,71.7 14.4,71.6 10.8,72 8.9,70.3 6,68.7 3,67.8 0.4,68.7 -2.2,68ZM171,282.9 172.1,281.5 174,281.3 175.2,281.9 176.8,282.3 178.6,282.7 180.3,281.9 182.2,281.7 184.6,281.2 186.6,280.8 185.2,282.1 184.9,284.3 184.7,285.6 183.9,287.2 184.5,289.4 184.9,290.9 184.2,292.5 184,294 182.7,293.7 181.5,291.7 179.7,290.9 178.1,290.5 176.4,289 175,288.5 173.9,287.2 172.4,286.6 171.4,285.9 170.7,284.7ZM149.7,258.3 152.2,258.7 153,257 154.6,256 156.2,256.8 156.4,258.7 157.3,259.3 157.5,260.6 157.8,262 157.1,263.2 157,265 157.2,267 157.3,269.9 156.8,272.2 156.2,273.9 154.3,273 153.7,274.9 152.9,275.7 151.9,275.8 150.7,274.7 150.2,273.5 150.6,271 150.2,269.7 150.9,268.3 151.3,267.5 150.6,266.1 151.1,263.9 150.2,261.7 149.5,261.6 149.4,260.2ZM155.6,241.4 155.9,243.9 155.5,246.1 156.4,248.7 155.6,251 155.1,253.1 154.6,254.9 152.7,253.7 153.2,252.5 152,251.9 152.3,250.4 151.6,248.6 151.8,247.5 151.4,246.6 152.4,245 153.3,244.4 155.1,244.1 155.3,242.2ZM225.9,303 228.1,303.7 228.9,303.2 230.3,304.9 231.6,305.8 233.6,305.2 235.4,305.5 236.5,306.4 236.7,305.5 238.4,306.3 239.4,305.5 239.3,307.2 238.4,308 236.6,307.9 234.5,308.2 232.8,308 231.6,308.6 231.5,307.2 230,306.5 228.7,306.3 226.4,306.1 225.7,305.8 226.1,304.5ZM269.1,307.6 270.4,306.6 272.4,306.8 272.2,304.7 274.2,305.2 275.7,305 277.1,304.5 278.7,303.2 280.5,302.2 278.4,304.2 277.3,307 278,308.3 275.7,308.8 274.2,310.2 272.6,311.3 270.6,311.2 269.6,310.1ZM171.5,132.9 172,134.6 171.5,135.9 170.6,136.7 169.5,137.8 170.8,139 168.8,140.5 168,141.5 165.9,140.5 164.2,138.8 164.6,137.4 164,135.9 162.9,135.4 163.8,134.3 165.4,133.4 167.8,133.4 170,132.1ZM159,136.8 160.2,136.5 161.6,136.4 162.1,137.5 162.6,138.9 161.6,141.1 159.8,140.7 158.1,139.3 157.3,137.4ZM163.6,142.9 163.6,141.9 164.9,142.8 166.8,142.1 169.3,142.3 168.3,143.7 168.4,145.1 167.1,144.5 165.3,144.4ZM181.9,139 184.1,140.3 183.8,141.5 181.9,140.8ZM198.8,122.8 199,121 199.7,119.5 200.8,118 201.7,117.1 203.3,117.5 205,117 204,117.8 203,118.9 202,120.2 202.2,121.5 201.8,123 200.3,123.8 199,125.5 199.3,124ZM190.3,131.5 191.6,126.1 193.8,121.8 193.1,124.9 191.1,130.7ZM218.3,117.2 217.3,115.9 217.4,114 217.8,112.4 219.8,112 221.1,111.5 222.9,112.9 224.5,111.7 224,112.8 222,113.7 220.6,114.6 219.1,115.3ZM218.3,108.9 219.8,109 221.1,107.5 222.1,108.2 223.3,109.3 221.8,110.7 220.1,109.9ZM206.2,98.2 207.9,96.4 209.7,97.4 209.7,99.1 207.7,99.5ZM223.1,275.7 224.8,274.5 226.9,276.4 228.8,277.6 229.8,279.7 230.9,281.8 231,283 230,283.4 229.3,281.2 228.3,280.1 226,279.1 225.4,278.2 224.8,276.8 223.8,276.1 222.2,276ZM237.2,273 238.9,271.5 240.9,272 240.9,274.3 238.9,275 237.3,273.7ZM237.3,278.4 237.9,278 238.7,280.5 237.9,281.8 237.3,280.9ZM240.7,285.4 243.1,284.9 242.9,285.9 240.9,285.9ZM246.3,298.4 249,295.9 248.3,298.8 246.6,300.7ZM242.6,292.4 244.6,292.6 242.9,293.8ZM233.2,267.6 235.2,266.4 234.9,268 234,268ZM230.7,260.1 231.7,260.1 231.7,261.4 230.7,261.4ZM235.2,262.4 236.4,262.2 235.9,263ZM209.9,281.4 210.9,279.1 212.1,282 210.9,282.4ZM211.4,284.3 212.6,285.1 212.9,285.5 211.7,285.5ZM206.4,268.2 207.9,268 207.7,269.7 208.7,271.4 207.7,271 206.7,269.3ZM210.9,278 211.7,276.1 211.9,278ZM231.5,283.2 232.7,284.3 232,285.5ZM234.9,289.7 235.9,290.5 235.2,291.8 234.8,290.9ZM233.5,290.1 234.3,290.5 234,291.5ZM229.7,293.4 230.7,293.4 230.2,294.3ZM233,285.9 234.2,286.8 233.5,287ZM237.9,286.2 239.7,285.7 238.4,286.8ZM222.8,298.4 223.5,297.2 223.3,298.6ZM243.4,304.7 243.9,300.5 244.1,303ZM230.5,276 231.2,276.4 230.7,276.8ZM72.1,82.4 74.4,80.5 77.3,80.7 75.8,83.7 73.4,83.7ZM74.6,86.6 75.6,86.4 76.1,88.2 75.1,88.1ZM102.6,101.1 103.3,100.2 103.6,98.6 103.8,96.6 104.1,94.5 105.1,92.8 104.1,93.2 102.6,94.9 101.1,95.7 100.9,97.4 102.4,98.2 102.3,99.7ZM92.4,108.2 94.7,107.4 95.9,106.3 97.2,105.7 96.5,107.1 95.7,108.6 94.2,109.9 92.7,109ZM78.1,112.4 77.6,114.9 77.1,116.2 76.3,117.8 74.4,118.6 73.9,117 74.1,114.9 75.3,114 76.5,113.3ZM73.4,119 73.6,124 72.4,124 71.9,119.9ZM77.8,119 78.6,120.3 80.4,121.2 81,122.8 79.3,124.6 77.8,123.3 77.1,122.1 75.6,121.1 76.3,119.9ZM77.6,130.7 77.8,128.2 80.8,129.4 80.1,130.7ZM76.8,135.7 78.6,133.8 79.1,136.1 77.8,136.7ZM78.8,134.4 80.8,132.2 79.8,134.9ZM82.5,135.7 83.8,136.1 83.8,137.8 82.5,137.4ZM85.3,149.4 87.5,146.3 87.7,147.3 86.2,149.4ZM101.2,177.6 102.6,176.7 103.7,177.5 102.6,178.4ZM173,34.5 175.5,33.3 177,30.8 179.2,30 181.4,29.6 183.4,29.1 185.4,28.3 185.4,30.1 183.4,30.8 181.3,31.6 179.4,32 176.9,33 175.5,33.7 174.4,33.9ZM184.4,29.1 185.9,27.9 185.9,25.4 187.7,24.2 188.4,22.5 188.9,24.2 190.3,25.8 191.2,26.8 191.3,28.3 189.8,29.1 188.4,29.6 186.2,30.6ZM180.4,28.3 182.9,25 186.4,25.4 183.9,28.3ZM192.8,24.1 193.8,20.8 197.8,20.4 198.8,22.9 195.3,24.1ZM199.3,20 201.2,16.6 205.7,16.2 204.7,19.1ZM218.1,12.5 222.1,10.7 225.5,11.2 222.6,12.9ZM234.5,8.3 236.9,6.9 238.9,8.1 236.4,8.9ZM150.7,70.8 154.2,69.5 153.7,71.2ZM132.6,158.2 133.3,156.7 133.1,158ZM-5,0.8 1.7,2.1 2.5,6.7 1.5,12.9 -5,13.7ZM64.2,9.6 69.4,7.1 69.9,7.9 64.9,10ZM76.3,313 76.4,310.2 77.8,308 78.6,306.3 79.2,304.1 79.6,302.7 79.7,301.4 80.3,301.5 81.7,301.2 82.8,300.5 83.6,302.2 82.8,303.4 85,304.7 86,306.3 88.2,305.9 89.6,305.9 90.9,305.6 92.7,306.3 93.6,305 94.4,304.3 94.7,306.3 96.2,306.3 98.1,307.2 99.9,307.2 100.9,306 102.2,305.5 103.8,303.6 105.9,302 107.7,300.9 109.5,300.3 110.8,298.9 112,298 114,296.7 115.5,295.3 118.1,294.1 120,294.6 122,293.9 124.2,293.1 125.2,292.8 126.4,292.4 128.4,292 131,292.2 132.2,293.2 134.2,293.3 135.3,294.3 136.2,293.4 137.6,292.8 139.4,291.9 141.1,290.7 141.7,291.7 143.2,292.4 144.6,290.7 146,291.2 147.6,292.2 149.7,291.9 150.9,292.2 152.4,291.7 154.3,290.8 154.7,289.4 156.2,288.5 157.9,288.5 159.6,289.9 159.6,291.4 160.1,292.6 161.3,293.4 162.9,291.9 163.8,290.7 164.2,292.6 163.1,294.7 162.3,295.9 161.6,296.3 161.5,299 161.8,301.1 162.7,301.5 163.8,303.8 164.3,306.1 163.7,307.3 163.3,308.8 163.7,310.8 163.1,313Z"/>
<path id="isl0" d="M120.7,269.7 122.4,268 123.8,267.1 124.9,266.7 124.5,267.6 126.2,268.7 125.6,269.9 125.3,271.2 124.2,272.5 122.9,271.7 122.2,270.1 121.5,270.8ZM127.9,266.4 129.4,265.8 130.5,267.2 130.1,267.9 128,267ZM115,275.1 116.2,273.9 117.1,274.5 116,276Z"/>
<path id="lext" d="M267.7,39.1 282.5,42.5 297.4,46.6 310.3,45 315.2,42.5 318.2,46.6 309.8,55.8 309.8,63.3 299.9,69.1 287.5,68.3 279.1,64.1 278.6,54.1 270.1,45.8ZM202.2,97.4 206.2,95.7 214.6,94.9 220.6,97.4 221.1,101.1 214.1,102.4 207.2,101.6 202.7,100.7ZM-2.5,0.4 5.2,0.8 5.5,13.3 -2.5,14.2ZM240.9,263.9 244.9,263.9 254.3,263.9 257.7,261.4 255.8,257.2 247.8,256.8 243.9,259.7ZM298.1,205.6 304.8,204.8 304.8,208.9 298.4,211.4Z"/>
<path id="lexb" d="M-2.5,0.4 5.2,0.8 5.5,13.3 -2.5,14.2ZM240.9,263.9 244.9,263.9 254.3,263.9 257.7,261.4 255.8,257.2 247.8,256.8 243.9,259.7ZM298.1,205.6 304.8,204.8 304.8,208.9 298.4,211.4Z"/>
<path id="bord" d="M65.1,250.8 66.8,249 68.4,248.9 68.9,251.4 70.9,250.9 73.4,250.6 75,250.4 76.3,250.1 77.6,251 78.3,253.1 77.2,254.3 76.8,255.6 75.9,256.6 74.8,258.1 75.6,261.4 75.3,263.9 74.4,264.7 74.7,267.2 74.8,268.9 73.8,269.9 71.9,269.3 72.3,272.4 74.4,273.9 73.9,276.3 73.5,277.9 73.4,281.4 74.4,281.4 73.3,284.2 71.9,286.8 71.9,288.4 72.4,289.9M100.2,238.3 101.5,239.5 102.1,241 103.5,241.2 105.3,241.8 107.2,243.2 109,243.9 110.3,242.8 112.5,242.7 114.3,243.2 116.2,244.7 117.7,245.6 119,246.8 122.5,246.3 124.8,246.2M146.4,234.9 146.5,233.2 147.2,231.8 145.4,231.1 143.2,229.8 143.7,227.3 143.1,225.3 142,223.9 142.4,222.3 144.2,221 143.3,219.9 142.8,218.1 144,217.1M144,217.1 142.8,214.8 142.8,213.1 140.7,214 138.8,215.2 138.6,213.7 139.3,211.9 141,210.2 142.4,207.9 143.7,205.6 143.7,203.9 144.9,203.3 146.7,203.3M146.7,203.3 146.2,200.7 146.7,199 147.4,196.9 147.7,194.8 148.1,193.2 149.7,191.7 147.9,191.2 146.2,190.6 144.5,190.8 142.3,189.8 141.2,189 140.6,187.5M140.6,187.5 139.1,187.4 137.8,187M137.8,187 135.8,186.5 134.3,185.1 133.1,183.1 133.1,181.9 131.4,182.2 129.9,183.1 129.6,180.6 128.2,180.2 126.9,179 126,177.7 124.9,176.9 123.6,176.4 121.9,176.5 121.7,174M125.8,171.7 127.2,172.6 128.4,173.1 130.1,171.7 131.5,171.4 133.3,171.1 134.3,172.3 136.5,173.1 138,173.6 137.5,175.1 137.1,176.3 138.9,176.9M138.9,176.9 140.3,179 140.5,180.6 139.4,182.1M139.4,182.1 138.8,183.6 137.5,184.4 137.6,185.5 137.8,187M139.4,182.1 140.5,183.5 141.3,184.8 140.5,186.3 140.6,187.5M138.9,176.9 139.2,175.5 139.3,173.1 139.8,170.6 139,169 138.5,167.9 140.5,167.7 142.3,167.3 142.5,165.7 144,164.4 143.3,163.4 142.3,162.3 144,161.1 144.7,158.3 144.7,156.5 144.7,155.7M151.9,142.3 154.1,142.7 155.9,143M179.7,150.5 179.4,153.5 180.4,155.7 180,158 179.2,159.4 180.7,160.9 181.7,161.9 181.4,164.4 182.2,166.1 182.9,168.6 183.2,171.5 182.9,174.2 182.5,175.9M182.5,175.9 179.9,175.6 177.2,175.8 176,177.3 174.3,179 171,180.2 169,180.6 170.3,182.2 171,184 170.5,185.6 171.9,186.8 173.5,189 175.1,191 177.6,193.4M177.6,193.4 175.7,195 174.9,197 173.5,197.7 173,199.1 173.5,201 173.3,202.2 173.7,203.9 171.1,203.9 169.5,203.1 166.7,203.9 163.6,204.8 162.3,203.9 160.8,203.5 159.6,205.6 158.1,204.2 156.6,203.7M156.6,203.7 154.6,202.5 153.2,201.7 151.7,201.4 150.7,203.4 148.7,202.8 146.7,203.3M156.6,203.7 156.2,205.8 156.4,207.7 157.5,208.9 159.1,209.4 160.9,209.2M144,217.1 146.4,216.7 148,217.1 148.6,214.9 150.7,212.7 150.9,214.4 151.6,216.4 153.7,217.8 154.8,215.3 155.1,212.3 157.2,213.6 158.6,214.4 158.8,212.9 159.4,211.4 160.6,210.6 160.9,209.2M160.9,209.2 163.1,208.5 166.1,208.1 168.1,207 169.5,207.4 169.8,208.8 170.5,210.6 173.9,212.3 177,212.1M177,212.1 176.5,213.9 175.5,214.8 176.5,216.8 176.6,218.3 177.9,219.8 177.1,219.8M177,212.1 179.7,212 181.4,213.1 184.1,212.9 186.6,210.6 187.6,210.3 188.9,209.2M188.9,209.2 190.8,208.1 190.8,206.4 190.6,204.8 191.2,203.8 191.8,202.3 193.8,202.3 194.1,199.8M194.1,199.8 192.7,197 193.1,194.8M193.1,194.8 191.4,194.3 190.3,193.5 187.2,192.8 183.4,191.5 183,193.2 181.9,194.8 179.3,193.9 177.6,193.4M182.5,175.9 183.7,174.9 184.9,174.8 186.4,175.9 187.4,176.9 188.8,177.2 190.1,177.7 189.3,179.4 190,181.6 191.8,182.3 192.3,181 192.8,179.4 195,179.1 196.8,180.6 197.8,181.8 198.5,182.7 200.9,184.3 202.5,187.1M202.5,187.1 201.3,188.8 198.8,190.6 196.4,191.8 194.3,192.7 193.1,194.8M202.5,187.1 204.2,186.2 205.7,186.5 206.7,188.3 207.2,189.8 208.7,189.8 210.2,188.1 211.9,187.8 213.6,187.9 216,189.4 218.1,188.5 219.3,189.6 220.8,190.8M194.1,199.8 196.3,200.6 197.3,201.9 200.4,202.9 202.2,201.4 202.5,199.4 204.5,199.3 207.7,198.5 208.7,196.4 210.7,195.6 212.9,195.4 215.4,195 216.9,196.3 218.8,196.5M218.8,196.5 220.1,193.9 220.8,190.8M220.8,190.8 220.7,188.1 221.6,186.5 223.6,185.3 225.7,184.1 226,180.6 227.1,179.8 228.5,178.1 228.5,176.1 226.1,173.7 226,170.6M226,170.6 226.1,168 226.3,165.7 224.9,164.8 224,164 226.1,162.4 227.5,160.7 227.1,158.7 227.5,156.5 226.1,153.2 225.5,150.3M225.5,150.3 223.5,148.3 222.1,146.8M222.1,146.8 216.9,146.6 213.3,146.4 209.8,146.3 206.4,146.1M222.1,146.8 222.1,145.1 221.8,142.8 221.1,141.1 218.2,139.6 214.6,139.2 212.9,139.2M225.5,150.3 227.4,150.2 230,150.7 233.4,149.4 235.4,148.2 235.4,145 236.9,142.3 238.6,140.5 240.9,139 240.9,137.2 241,135.9M213.4,132.6 215.2,131.5 218.1,129.7 221.1,129.7 224.5,129.7 227.6,129.7 232.5,129.7 234.6,131.2 236,132.2 238.7,134.1 241,135.9M241,135.9 244.4,134.4 246.7,133.6 248.7,131.9M248.7,131.9 248,129.5 247.2,128 246,125.2 246.3,122.4 244.6,120.5M244.6,120.5 242.2,118.3 240,118.7 237.9,117.8 236.3,116.8 234.5,116.1 232.3,117.3 229.7,117.6M244.6,120.5 245.2,118.9 245.4,117.4 244.9,114.9 245.1,113.2 245.3,110.6 245.4,108.2 247.7,106.6 248.6,104.9 248.1,104.3M248.7,131.9 250.9,133.7 254.8,134.9 256.9,135 258.9,136.1 262.2,136.5 262.2,139.1 261.7,143.2 263.1,145.4 264.5,147.8 265.3,149.7 266.7,151.5 268.1,154 270.1,155.7 267.3,155.4 264.7,156.5 264.8,158.8 264.9,161.4 266.3,163.8 266.7,165.7M226,170.6 227.9,168.6 230,167.3 231.9,167.1 234.5,166.9 237.2,166.1 239,165.6 241.8,167.5 243.9,169.8 247.2,170.7 251.3,171.1 255.2,171.4 257.9,172.5 260.5,172.3 261.4,168.6 262.5,166.1 264.3,166.3 266.7,165.7M266.7,165.7 269.1,167 271.2,166.8 274.1,165.6 276.6,163.6 277.6,166.5 279.6,168.2 280.7,170.7 283,173.1 285.1,175.9 285.5,179.8 288.4,179.9 290.6,179.8 292.6,180.5 294.9,180.6 297,181.7 297.4,184 300,185.2 303.3,184.5 306,185.8 307.8,186.5 306.7,189.2 306.3,192.3 307.2,194.3 307.8,196.9 307.5,199 306.8,201 304.7,201.2 301.4,201 299.7,204.1 298.4,207.1M218.8,196.5 220.5,198.5 222.6,199.8M222.6,199.8 224,200.2 226.1,200.6 228.7,200.6 232.5,202.1 235.3,201.1 238.9,199.8 239.2,198.4 241,197.6M241,197.6 243.4,197.3 245.4,195.9 247.2,196.9 248.8,198.1 250.9,199.3 253.3,200.2 254.7,201.9 253.8,204.4 255.8,207.2 257.3,209.8 257.8,211.9 258.2,213.1 255.8,213.6 252.8,214.8 252.3,216.8 249.6,218.7 248.8,220.8M241,197.6 242.5,199.8 243.9,201.4 245.4,203.9 246.8,206.4 247.3,209.6 248.3,211.4 248.9,215.4 248.3,217.7 248.8,220.8M248.8,220.8 250.1,221.5 251.8,222.3 254.5,222.3 256.3,221.4M222.6,199.8 221,202.5 218.1,203.9 217.9,207.1 217.2,209.5 215.8,211 214.1,213.1 211.3,213.8 209.5,215.4M209.5,215.4 205.7,216.3 202.7,217.1M202.7,217.1 200.1,215.7 196.3,216.8 194.7,214.8 192.8,213.9 191.3,212.5M191.3,212.5 190.2,210.7 188.9,209.2M191.3,212.5 188.4,213.7 186.6,214.8 184.5,216.8 184.5,219.2 184.9,221 183.2,219.8 181.4,219.3 180.6,220.1 178.9,220.6 176.5,220.8M200.4,245.1 198.4,243.7 196.5,242.2 196.1,240.4 194.8,238.9 192.9,237.1 191.8,234.7 190.6,233.5 189.3,231.4 188.4,228.5 187.1,226.4 187.3,225 187.1,222.8 188.6,223.7 189.8,224.8 191.5,224 192.8,222.7 195,224.2 197.5,224.3 199.1,223.5 201.2,224.1 202,225.2 203.3,225.8 204.1,228 203.7,229.8 204.2,231.7 206.2,233.1 206.1,235.2 204.5,237.2 202.7,238.5 201.7,239.7 201,242.1 200.4,245.1 200.8,246.2M202.7,217.1 202.9,219.7 203.2,221.4 205.2,223.1 203.9,223.7 203.3,225.8M209.5,215.4 211.5,216.6 213.7,219.1 214.3,221.3 215.1,223.1 215.1,224.4 215.1,226 217.8,226.7 220.3,228.1 220.4,229.7 221.4,231.2M221.4,231.2 221.1,233.4 220.1,234.7 221.4,237 223.1,239.7 222,243.6 219.9,247.1M219.9,247.1 217.8,247.9 216.1,247.6 213.8,249.1 211.2,250.8M211.2,250.8 210.5,247 208.7,245.2 208.5,245.1 209.4,244 209.9,242.7 211.4,241.1 212.1,239.3 214.1,241.2 215.1,242.7 216.9,244.1 216.5,245.6 216.1,247.6M209.9,242.7 207.5,241.2 206.2,239.7 205.4,238.5 204.5,237.2M208.5,245.1 206.2,245.6 205.7,247.1 205,248.1 204.9,249.5 205.1,251M211.2,250.8 210.5,252.8 210.7,255.6 211.1,257.2 211.9,258.9 213,259.3M213,259.3 211.1,262.9 211.4,265.5 210,267.2 209.2,269.3 208.2,269M213,259.3 215.3,259 217.1,258.9 219,256.7 221.1,256.8 222.7,255.2M222.7,255.2 222.9,253.3 223.1,251.8 220,249.8 219.9,247.1M222.7,255.2 225,254.2 229,253.5 232,255.7 234.5,256 236.3,256.3 238.4,255.1 238,253.4 239.7,252.1M239.7,252.1 240.3,253.2 240.9,255.1 239.6,257 239.4,258.5 238.2,260.3M239.7,252.1 240.7,250.9 242.9,249.3 246,250.3 248,249.9M221.4,231.2 222.2,232.3 222.6,234.3 225.6,235.2 228,235.6 231.7,235.3 235.4,236 237.2,233.8 239,233 242.9,232.2 246.2,234.5 248.2,234.8 250.7,235.2M246.8,95.3 249.5,93 251.3,90.4 252.8,89.1 254.4,87.8 256.4,86.7 257.7,84.1 259.5,83 261.6,81 264.2,78.2 265.2,76.9 265.4,75.8 263.5,74.3 260.6,73.2 258.3,70.8 257.7,68.7 258.9,66.3 260.2,64.9 258.3,61.8 256.3,59.1 257.1,56.2 256.3,53.3 258.2,52.4 256.2,49.7 255.6,47.3 254.7,45.2 253.3,42.5 255.5,39.3 257.7,35.8 254.9,34.7 252.9,33.9 250.3,31.6 250,30.1 250.1,28.7 251.1,26.6 252.5,24.6M252.5,24.6 252.9,23.4 254.3,22.5 256.6,21.9 258.2,19.6 260,19.7 262,20.4 262,18.3M252.5,24.6 251.8,22.9 253.3,21.7 254.3,20.8 252.2,19.6 249.8,17.9 248.9,16.9 247.8,16 245.2,16.5 242.9,17.1 240.7,17.5 237.9,19.1 237.7,21.6 236.4,22.9 236,24.3 236.4,25.8 234.1,26.9 232.5,28.7 230.5,27.9 227.5,26.6 224.9,27.4 223.2,27.6 220.1,27.5 218.7,25.4 216.1,22.6 213.5,23.1 210.9,24.5M210.9,24.5 212.2,25.1 213.1,26.2 215.5,27.8 218.1,29.6 221.4,31.6 225,33.3 226,36.5 226.3,39.1 227.5,40.8 227.5,43.3 228.3,46 227.5,49.1 228.1,50.1 228.8,51.6M210.9,24.5 209.3,24.9 208.2,25 208.6,28 208.7,30 206.8,30.3 204.3,31 201.3,29.8 198.8,29.1 199,31.6 197.2,31.9 194.8,32.5 192.4,34.8 190.5,36.3 188.9,37.5 189.2,40 190.3,41.2 188,43.4 187.1,45.7 185.4,47.4 182.8,48.1 180.9,48.9 181.4,52 180.9,55.8 178.2,58.5 176.7,61.6 178.1,63.1 179.2,64.9 178.2,66.6 175.4,66.4 172,66.6 170,68 169.3,69.9 168.8,72.6 169.5,74.9 170.1,77.4 168.6,79.9 169,83.3 169.3,85.6 171.2,86.8 172.7,88.7 171.9,90.2 169.5,91.6 170.1,93.8 171.5,95.7 171.6,97.1 171,99.1 169.3,100.3 167.8,101.1 167,103.2 166.9,104.5 167.5,106.1 166.8,107.3 165.8,109 164.3,107.4M307.3,238.1 309,237.1 310.8,236.8 312.9,236.9 315,238.2 316.9,238.7 319.7,239.7 322.7,242.4 324.3,243.7 326.2,244.7 329.2,243.8 331.6,243.5 335.1,245.4 336.5,248 337.1,249.7M315,253.7 317.6,254 319.7,254.3 321.4,253.2 322.8,255.9 324.5,257.1M324.5,257.1 326,256.4 327.6,256.4 329.7,256.1 332.1,255.7 334.5,256.2 337.1,256.4M324.5,257.1 325,258.9 325.9,260.6 325,263.5 325.2,265.5 328.1,267.7 331,268.9M331,268.9 330.1,269.8 329.1,271.4 327.4,271.4 327.7,274 326.7,276.4 328.1,279.7 328.2,282.1 328.6,283.9 329.5,287.6 331.1,289.7M331,268.9 332.1,268.5 333.1,269.7 334.8,271.5 337.1,274.7M331.1,289.7 329.3,289.3 326.6,289.3 323.5,288.1 321.2,288.4 319.9,289.5 319,290.5M319,290.5 315.9,290.3 313.3,290.7 310.7,291.5 307.3,293 305.1,292.1 303.2,291.4 299.9,292.6 296.6,293.8 292.9,294.3 291.8,293.4 290.7,292.8 290.8,295.1 290.2,297.6 290.3,299.7 288.2,301.2 287.1,300.3M319,290.5 317.2,291.8 315.7,293.9 313.8,296.8 313.7,300 314.3,303 313.9,306.4 313.3,309.7M331.1,289.7 332,293.6 332.1,296.3 333,298.3 334.1,299.9 336,300.3 337.1,301.3M98.1,307.2 99.5,309.1 100.1,310.5 100.6,313M151.7,291.8 150.8,294.2 150.2,296.3 150.3,299.2 149.8,301.1 149.8,303.1 150.2,305.5 150.4,308.8 149.7,312.2M73.1,141.1 72.2,142.5 71.9,144 70.5,145.2 68.7,146.1 70.2,147.5 72.9,148.8 74.1,149.3 76.1,149.4 78,149"/>
<mask id="cl" maskUnits="userSpaceOnUse" x="-5" y="-5" width="345" height="320"><g fill="#fff" stroke="#fff" stroke-width="3" stroke-linejoin="round"><use href="#land"/><use href="#lext"/></g></mask>
<mask id="clb" maskUnits="userSpaceOnUse" x="-5" y="-5" width="345" height="320"><g fill="#fff" stroke="#fff" stroke-width="3" stroke-linejoin="round"><use href="#land"/><use href="#lexb"/></g></mask>
<clipPath id="cp"><rect x="0" y="0" width="332.1" height="307.3"/></clipPath>
<clipPath id="cy"><rect x="29.2" y="0" width="60" height="976"/></clipPath>
</defs>
<rect width="1472" height="976" fill="#fff"/>
<rect x="77.5" y="31" width="332.1" height="44.7" fill="#d9d9d9"/>
<text x="243.9" y="61.4" font-size="22.6" text-anchor="middle" fill="#1a1a1a">MAM</text>
<g transform="translate(77.5,75.4)" clip-path="url(#cp)">
<rect width="332.1" height="308" fill="#e5e5e5"/>
<g mask="url(#cl)">
<rect width="332.1" height="308" fill="#fee28c"/>
<path d="M148.7,276.4 153.4,276.4 152.3,268.7 148.6,263.7 150.9,260.2 153.4,255.6 154.6,254.7 154.2,248.4 154.6,240.6 150.7,240.6 150.9,246.2 149.3,249.9 148.9,254.9 148.7,258.1 153,259.6 152.4,265.5 147.3,270.7Z" fill="#fff4b8"/>
<path d="M333.3,101.6 328.5,99.1 322.2,98 319.8,96.4 316.1,96.7 313.1,95.6 311.2,93 305.7,92.3 300.1,91.8 297.4,90.5 295.2,89.4 294,86.7 291.5,84.4 288.1,82.1 286.6,79.5 283.1,79 281.6,77.1 278.2,78.4 275.5,79.5 272.7,80.3 270.6,82 266.1,83 263.2,84.4 259.9,82.6 257.1,83.2 254.7,83.5 250.9,84.4 249.2,81 247.2,79.5 246,75.8 242.3,74.3 238.6,73.4 235.7,71.5 232.5,72.1 230.4,69.2 231.2,66 234.4,63.5 238.6,61.1 239,55 237.4,51.2 236.9,46.3 233.7,40.2 232,36.8 231.2,31.6 228.9,31.9 226.3,30.3 223.9,30 221.4,29.1 218.8,29.1 216.5,27.9 213.4,28.7 211.6,31 209.4,29.1 206.6,28.5 202.5,29.8 199.3,29.1 195.8,28.8 193.1,31 188.2,31.8 185.7,29.1 187.2,26.7 188.2,23 193.9,20.1 197.2,15.6 201.7,14.4 202.7,7.7 211.1,6.7 219.1,3.2 226.3,2.1 239.6,1.7 248.4,-2.8 255.1,-2.2 263.2,2.1 312.4,11.9 317.8,9.2 324.4,8.6 329.1,10.9 333.3,11.9Z" fill="#fec45d"/>
<path d="M182.1,36.5 185.7,35.1 189.4,35.3 194.8,36 198,40.2 199.3,43.2 198.2,47.6 193.1,48.2 189,46.6 184.5,50 181.2,52.3 177.1,54.9 173.9,56.5 171,59.8 167.3,60.5 167.9,56.2 171.1,53.3 173.5,48.8 176.5,45.3 178.4,41.4 180,39.4Z" fill="#fec45d"/>
<path d="M218.9,68.5 226.3,63.5 231.2,61.1 228.8,66 222.6,68.5Z" fill="#fec45d"/>
<path d="M328.6,24.2 333.3,24.2 333.3,47.6 328.6,47.6Z" fill="#fd9d43"/>
<path d="M0,54.9 2,54.8 4.9,53.7 10.3,53.9 13.5,54.3 14.1,58.6 11.1,59.8 8.6,61.1 5.7,61.3 2.5,62.3 0,61.1 0.5,57.3Z" fill="#fec45d"/>
<path d="M20.9,52.5 27.1,50.6 30.7,52.5 30.7,57.4 25.8,59.2 21.5,57.4Z" fill="#fec45d"/>
<path d="M149.4,76.4 152.7,75.5 157.4,75.2 161.2,75.9 162.3,78.3 162.3,82.6 159.7,82.9 156.2,84.4 155.4,88 156.8,90.6 155.2,94.5 155.5,98 152.8,100.9 152.5,104.1 149.4,106.2 146.9,105.3 146.6,103.2 145.1,100.4 143.9,93.7 148.8,90.6 149.8,87.5 151.2,84.4 148.2,80.7Z" fill="#fec45d"/>
<path d="M82.4,257.3 87.6,253.8 92.2,254.8 94.9,256.8 99,256.1 97.7,261 99.6,268.4 98.3,273.4 95.9,275.7 93.6,278.1 91,280.7 86.1,280.7 85.5,277.2 83.6,274.5 80.2,276 78.7,278.2 75.6,277 76.2,272.1 79.4,270.3 81.2,267.1 80.7,264.2 79.9,262.2 80.1,259.7Z" fill="#fec45d"/>
<path d="M53.5,175.6 59.4,173.6 64.8,173.1 73.5,169 79.8,169.8 80.2,163.5 78.1,159.3 78.9,153.9 79.8,149.8 77.8,149.4 76.1,149.8 72.9,149 68.7,146.5 71.4,144 72.9,141.5 74.8,137.4 68.1,134.4 63.4,133.1 59.6,135 54.5,137.4 50.8,145.6 51.1,152.2 49.6,166.8Z" fill="#fff4b8"/>
<path d="M72.9,155.7 76.8,155.7 76.8,149 72.9,149Z" fill="#fee28c"/>
</g>
<path d="M282.5,47.9 290,48.3 294.9,49.9 302.4,50.4 305.3,52 305.1,54.5 298.4,54.9 292.4,53.7 289.5,55.4 289,59.1 287.5,59.9 286.5,55.8 282.5,54.1Z" fill="#e5e5e5"/>
<path d="M294.9,59.1 298.4,59.9 296.4,61.6 295.4,60.8Z" fill="#e5e5e5"/>
<path d="M262.7,92.4 264.7,94.9 266.7,94.1 266.7,91.6 264.7,89.9 263,90.7Z" fill="#e5e5e5"/>
<path d="M283,86.6 285,88.2 286,86.6 285,84.1 283.3,84.5Z" fill="#e5e5e5"/>
<g fill="none" stroke="#1d1a0e" stroke-opacity="0.75" stroke-width="1.25" stroke-linejoin="round"><use href="#land"/><use href="#isl0"/><use href="#bord"/><path d="M126.1,172.3 130.9,169.2 131.4,172.3Z" fill="#1d1a0e" stroke="none"/></g>
</g>
<rect x="86.1" y="382.8" width="2.6" height="7.6" fill="#333"/>
<text x="87.4" y="408" font-size="15.2" text-anchor="middle" fill="#4d4d4d" textLength="39.5" lengthAdjust="spacingAndGlyphs">20°W</text>
<rect x="160.4" y="382.8" width="2.6" height="7.6" fill="#333"/>
<text x="161.7" y="408" font-size="15.2" text-anchor="middle" fill="#4d4d4d" textLength="31.3" lengthAdjust="spacingAndGlyphs">5°W</text>
<rect x="234.8" y="382.8" width="2.6" height="7.6" fill="#333"/>
<text x="236.1" y="408" font-size="15.2" text-anchor="middle" fill="#4d4d4d" textLength="35.3" lengthAdjust="spacingAndGlyphs">10°E</text>
<rect x="309.1" y="382.8" width="2.6" height="7.6" fill="#333"/>
<text x="310.4" y="408" font-size="15.2" text-anchor="middle" fill="#4d4d4d" textLength="35.3" lengthAdjust="spacingAndGlyphs">25°E</text>
<rect x="383.5" y="382.8" width="2.6" height="7.6" fill="#333"/>
<text x="384.8" y="408" font-size="15.2" text-anchor="middle" fill="#4d4d4d" textLength="35.3" lengthAdjust="spacingAndGlyphs">40°E</text>
<rect x="423.4" y="31" width="332.1" height="44.7" fill="#d9d9d9"/>
<text x="589.9" y="61.4" font-size="22.6" text-anchor="middle" fill="#1a1a1a">JJA</text>
<g transform="translate(423.4,75.4)" clip-path="url(#cp)">
<rect width="332.1" height="308" fill="#e5e5e5"/>
<g mask="url(#cl)">
<rect width="332.1" height="308" fill="#fee28c"/>
<path d="M148.7,276.4 153.4,276.4 152.3,268.7 148.6,263.7 150.9,260.2 153.4,255.6 154.6,254.7 154.2,248.4 154.6,240.6 150.7,240.6 150.9,246.2 149.3,249.9 148.9,254.9 148.7,258.1 153,259.6 152.4,265.5 147.3,270.7Z" fill="#fff4b8"/>
<path d="M-5,74.9 44.6,74.9 45.7,68.8 44.6,61.6 39.2,59.6 32.2,62 28.3,62.3 24.8,60.4 21.1,60.9 17.3,61.6 13.3,61 9.9,60.4 6.3,60.6 2.5,62.4 -1.9,63.2 -5,62.4 -2.4,70Z" fill="#fff4b8"/>
<path d="M162.4,61.1 165.1,58.6 168.5,57.4 169.7,53.3 173.5,51.2 173.4,47.8 177.1,46.3 180.2,46.1 182.1,42.6 181.5,44.9 180.8,47.6 177.1,51.3 174.7,57.4 172.3,60.4 171,64.8 168.5,68.9 167.3,73.4 164.2,72.7 159.9,72.1 161.7,66.6Z" fill="#fec45d"/>
<path d="M218.9,93 221.6,91.6 222.6,89.4 227.6,87.7 231.2,88.1 235.6,86.6 238.6,85.7 243.2,86.3 246,84.4 249.5,83.9 253.4,84.4 251.3,89.1 249.7,91.8 247.1,93.7 246,95.5 242.3,95.6 238.6,96.7 232.7,97.2 228.8,98 225.5,96.6 221.4,96.7Z" fill="#fec45d"/>
<path d="M225.1,68.5 231.2,61.1 234.9,62.3 228.8,70.9Z" fill="#fec45d"/>
<path d="M249.7,94.3 254.6,89.4 259.5,90.6 260.7,96.7 257.1,100.4 250.9,99.2Z" fill="#fec45d"/>
<path d="M225.1,107.8 229.8,107.3 231.2,104.1 236.2,102.3 243.5,104.1 245.8,105.6 247.2,107.8 247.3,110.9 246,115.2 242.7,115.3 238.6,116.4 234,114.5 228.8,115.2 227.2,110.9Z" fill="#fec45d"/>
<path d="M248.5,101.6 257.1,100.4 257.1,106.6 249.7,107.8Z" fill="#fec45d"/>
<path d="M188.2,98 190.5,95.5 193.1,95.5 196.1,97.6 200.5,96.7 200.4,98.8 201.7,101.6 200.1,105.1 198,106.6 195.1,106 191.9,105.3 188.8,101.6Z" fill="#fec45d"/>
<path d="M156.2,80.7 159.9,80.1 160.2,84.4 156.5,84.7Z" fill="#fec45d"/>
<path d="M217.1,110.3 225.1,109.6 225.3,116.4 217.3,117Z" fill="#fec45d"/>
<path d="M313.9,180.3 316.7,178.4 318.8,176.2 322.6,177.3 327.9,177.9 327.7,180.7 328.7,183.6 326.6,184.6 324.6,186.9 326.4,188.9 326.2,192.6 322.6,192.9 318.8,195.9 316.9,193.7 313.1,191.8 315.2,188.3 316.4,186.1 313.9,183.6Z" fill="#fec45d"/>
<path d="M319.7,218 324.3,216.6 327.9,217.2 329.6,220.1 331.1,223.8 332.3,228.5 331.1,233.6 328.7,232.8 326.6,228.3 325.4,225.4 324.1,223.2 321.3,221.3Z" fill="#fec45d"/>
<path d="M240.5,264.6 243.5,263.5 248.5,263.7 252.2,263.1 255.5,262.9 257.3,264.6 254.6,267.9 252,271.7 250.4,275.3 250.2,278.8 250.6,282.3 252,284.1 255.5,282.3 259.1,278.8 262.3,277.6 264.4,277 266.1,273.5 265,271.2 263.5,268.2 266.3,265.8 267.9,263.7 270.6,266.4 271.3,269.9 269.7,271.7 273.6,271 276.7,272.6 277.5,275.6 277.6,280.5 276.7,284.6 275.9,287.6 277.6,292 274.9,294.9 271.4,296.4 268.2,294.9 267,292 264,292.9 260,291.1 259.8,294.3 257.3,296.4 254,295.8 252,294.7 250.5,291.9 246.7,291.1 246,288.5 244.1,285.8 244.8,282.9 244.9,280.5 242.1,278 241.4,273.5 241.1,270.6 239.6,268.2Z" fill="#fff4b8"/>
<path d="M284.7,284.1 290,282.3 290.9,287.6 285.6,288.5Z" fill="#fff4b8"/>
<path d="M296.2,286.7 306.8,280.5 317.4,282.3 320,287.6 308.5,288.5 299.7,291.1Z" fill="#fff4b8"/>
<path d="M285.6,294.7 296.2,292.9 308.5,294.7 312.9,291.1 312.1,307.9 285.6,307.9Z" fill="#fff4b8"/>
<path d="M213.1,261.1 217,258.9 220.2,259.3 221.9,261.9 222.9,263.7 220.7,267.3 220.2,269.9 222,274.3 218.4,277 216,275.7 214,273.5 213,270.8 212.3,268.2 213,265.3Z" fill="#fff4b8"/>
<path d="M214,282.3 222.9,284.1 224.6,292 220.2,296.4 215.8,292Z" fill="#fff4b8"/>
</g>
<path d="M282.5,47.9 290,48.3 294.9,49.9 302.4,50.4 305.3,52 305.1,54.5 298.4,54.9 292.4,53.7 289.5,55.4 289,59.1 287.5,59.9 286.5,55.8 282.5,54.1Z" fill="#e5e5e5"/>
<path d="M294.9,59.1 298.4,59.9 296.4,61.6 295.4,60.8Z" fill="#e5e5e5"/>
<path d="M262.7,92.4 264.7,94.9 266.7,94.1 266.7,91.6 264.7,89.9 263,90.7Z" fill="#e5e5e5"/>
<path d="M283,86.6 285,88.2 286,86.6 285,84.1 283.3,84.5Z" fill="#e5e5e5"/>
<g fill="none" stroke="#1d1a0e" stroke-opacity="0.75" stroke-width="1.25" stroke-linejoin="round"><use href="#land"/><use href="#isl0"/><use href="#bord"/><path d="M126.1,172.3 130.9,169.2 131.4,172.3Z" fill="#1d1a0e" stroke="none"/></g>
</g>
<rect x="432.1" y="382.8" width="2.6" height="7.6" fill="#333"/>
<text x="433.4" y="408" font-size="15.2" text-anchor="middle" fill="#4d4d4d" textLength="39.5" lengthAdjust="spacingAndGlyphs">20°W</text>
<rect x="506.4" y="382.8" width="2.6" height="7.6" fill="#333"/>
<text x="507.7" y="408" font-size="15.2" text-anchor="middle" fill="#4d4d4d" textLength="31.3" lengthAdjust="spacingAndGlyphs">5°W</text>
<rect x="580.8" y="382.8" width="2.6" height="7.6" fill="#333"/>
<text x="582.1" y="408" font-size="15.2" text-anchor="middle" fill="#4d4d4d" textLength="35.3" lengthAdjust="spacingAndGlyphs">10°E</text>
<rect x="655.1" y="382.8" width="2.6" height="7.6" fill="#333"/>
<text x="656.4" y="408" font-size="15.2" text-anchor="middle" fill="#4d4d4d" textLength="35.3" lengthAdjust="spacingAndGlyphs">25°E</text>
<rect x="729.5" y="382.8" width="2.6" height="7.6" fill="#333"/>
<text x="730.8" y="408" font-size="15.2" text-anchor="middle" fill="#4d4d4d" textLength="35.3" lengthAdjust="spacingAndGlyphs">40°E</text>
<rect x="769.5" y="31" width="332.1" height="44.7" fill="#d9d9d9"/>
<text x="935.9" y="61.4" font-size="22.6" text-anchor="middle" fill="#1a1a1a">SON</text>
<g transform="translate(769.5,75.4)" clip-path="url(#cp)">
<rect width="332.1" height="308" fill="#e5e5e5"/>
<g mask="url(#cl)">
<rect width="332.1" height="308" fill="#fee28c"/>
<path d="M-60.6,-36.5 -60.6,86.4 46,86.4 46,45.4 119.8,45.4 119.8,114.3 125.9,115.7 131.3,114.4 133.3,116.9 136.2,120.8 141.1,117.9 144.8,117.6 150.5,116.6 155.8,115.1 160.2,116.6 164,117.6 167.1,118.7 168.9,122.8 172.3,124.9 175.5,125.1 178.1,124.5 181.2,123.5 183.2,120.7 185.3,119.5 188.8,118.5 191.1,117.9 191.3,114.9 195.2,114.3 202.2,116.4 206.6,112.6 212.9,114.1 218.1,114.3 220.4,115.7 222.2,117.6 222.9,121.1 224.7,124.1 225.5,127.4 229.6,127.7 234.5,128.8 237.8,129.8 239.7,131.2 241.9,133.9 244.4,135.6 247.5,136.2 249.3,137.2 253.3,137.3 254.2,142.1 257.6,145.4 260.7,147.1 262.5,150.3 267.3,153.6 271.3,153.4 273.9,156.9 271.7,159.6 272.2,163.5 270.8,167.3 270.6,170 273.6,173.3 273.9,176.6 274.5,179.2 277.1,181.5 282,182 283.7,186.4 285.8,188.3 287,191.3 286.5,194.9 285.3,199.5 282.5,201.4 282.1,204.4 281.5,207 278.8,209.4 282.1,211.8 287.9,216.1 291.9,220.8 293.8,222.8 296.8,224.1 302,226.6 305,229 308.9,228.8 314.8,230.7 319.8,233.9 323,237.2 328.7,239.2 334.5,243.8 334.5,-36.5Z" fill="#fec45d"/>
<path d="M-5,74.9 44.6,74.9 45.9,67.6 45.3,62.9 44.6,59.1 41.9,56.7 37.2,56.6 32.5,58.9 27.3,58.3 22.4,58.2 17.3,58.3 14.7,59.2 12.4,59.9 9.2,58.4 5,58.3 -0.7,60.3 -5,59.9 -4.2,64.9 -1.9,69Z" fill="#fee28c"/>
<path d="M-5,54.1 5,55.8 7.4,49.9 2.5,45 -5,45Z" fill="#fee28c"/>
<path d="M32.2,53.3 44.6,56.6 44.6,45 33.7,45Z" fill="#fee28c"/>
<path d="M69.4,89.9 79.3,89.9 79.3,79.1 69.4,79.1Z" fill="#fee28c"/>
<path d="M99.1,102.4 106.6,102.4 106.6,91.6 99.1,91.6Z" fill="#fee28c"/>
<path d="M173.8,107.7 177.7,106 182.6,109.3 183.3,120.8 177.7,122.4 173.4,115.9Z" fill="#fee28c"/>
<path d="M144,80.5 149.9,74.9 156.4,72.6 157.4,77.2 151.5,82.4 145.9,85.7Z" fill="#fd9d43"/>
<path d="M180,43.8 185.9,39.8 189.2,42.1 184.3,47.7Z" fill="#fd9d43"/>
<path d="M158.3,164.3 161.6,163.5 163.2,168.4 161.6,171.6 158.8,170Z" fill="#fec45d"/>
<path d="M170.3,172.5 173.5,171.6 174.2,176.6 170.9,176.9Z" fill="#fec45d"/>
<path d="M155.8,204.8 168.9,203.6 169.3,207.7 156.2,208.5Z" fill="#fec45d"/>
<path d="M297.3,258.4 307.2,256.1 313.1,261.7 308.8,269.9 299,268.2Z" fill="#fec45d"/>
<path d="M312.1,255.1 320.3,253.5 321.9,261.7 314.4,263.3Z" fill="#fec45d"/>
</g>
<path d="M282.5,47.9 290,48.3 294.9,49.9 302.4,50.4 305.3,52 305.1,54.5 298.4,54.9 292.4,53.7 289.5,55.4 289,59.1 287.5,59.9 286.5,55.8 282.5,54.1Z" fill="#e5e5e5"/>
<path d="M294.9,59.1 298.4,59.9 296.4,61.6 295.4,60.8Z" fill="#e5e5e5"/>
<path d="M262.7,92.4 264.7,94.9 266.7,94.1 266.7,91.6 264.7,89.9 263,90.7Z" fill="#e5e5e5"/>
<path d="M283,86.6 285,88.2 286,86.6 285,84.1 283.3,84.5Z" fill="#e5e5e5"/>
<g fill="none" stroke="#1d1a0e" stroke-opacity="0.75" stroke-width="1.25" stroke-linejoin="round"><use href="#land"/><use href="#isl0"/><use href="#bord"/><path d="M126.1,172.3 130.9,169.2 131.4,172.3Z" fill="#1d1a0e" stroke="none"/></g>
</g>
<rect x="778.1" y="382.8" width="2.6" height="7.6" fill="#333"/>
<text x="779.4" y="408" font-size="15.2" text-anchor="middle" fill="#4d4d4d" textLength="39.5" lengthAdjust="spacingAndGlyphs">20°W</text>
<rect x="852.4" y="382.8" width="2.6" height="7.6" fill="#333"/>
<text x="853.7" y="408" font-size="15.2" text-anchor="middle" fill="#4d4d4d" textLength="31.3" lengthAdjust="spacingAndGlyphs">5°W</text>
<rect x="926.8" y="382.8" width="2.6" height="7.6" fill="#333"/>
<text x="928.1" y="408" font-size="15.2" text-anchor="middle" fill="#4d4d4d" textLength="35.3" lengthAdjust="spacingAndGlyphs">10°E</text>
<rect x="1001.1" y="382.8" width="2.6" height="7.6" fill="#333"/>
<text x="1002.4" y="408" font-size="15.2" text-anchor="middle" fill="#4d4d4d" textLength="35.3" lengthAdjust="spacingAndGlyphs">25°E</text>
<rect x="1075.5" y="382.8" width="2.6" height="7.6" fill="#333"/>
<text x="1076.8" y="408" font-size="15.2" text-anchor="middle" fill="#4d4d4d" textLength="35.3" lengthAdjust="spacingAndGlyphs">40°E</text>
<rect x="1115.5" y="31" width="332.1" height="44.7" fill="#d9d9d9"/>
<text x="1281.9" y="61.4" font-size="22.6" text-anchor="middle" fill="#1a1a1a">DJF</text>
<g transform="translate(1115.5,75.4)" clip-path="url(#cp)">
<rect width="332.1" height="308" fill="#e5e5e5"/>
<g mask="url(#cl)">
<rect width="332.1" height="308" fill="#fd9d43"/>
<path d="M-15.5,124.6 124.5,124.6 132.8,123.8 141.6,127.2 144.4,131.5 147.5,137.6 149.1,142.9 150,149.6 150.7,154.9 151.6,159.4 154.6,162.1 155,167.6 156.9,171.9 159.8,174.2 160.1,177.1 160.8,180.7 165.3,183.8 167.3,187.3 172.3,191.8 175.5,194.7 178.8,190.3 185.3,193 187.1,199 191.8,200.4 190.5,204.8 190.2,208.6 193,210.9 195.1,213.5 200,215.2 205,215.2 208.9,215 211.5,215.2 212.7,217.7 213.2,221.7 219.1,227 221.5,231.6 227.1,229.4 231.2,235.7 239,235.2 244.3,233.2 247.6,231.4 251,226.6 250.7,222.7 254.1,220.1 255.8,224.7 260,226.3 264,224.9 269.5,226.6 276.2,225.7 282,226.2 285.7,225.7 289.5,223.6 292.8,222.6 295.1,223.4 300.1,228 302.7,231.8 308.2,231.7 316.5,234.8 322.7,233.1 327.7,232.7 331.5,236.1 334.5,241.6 334.5,319.6 -15.5,319.6Z" fill="#fec45d"/>
<path d="M272.2,218.5 277.2,220.9 283.7,221.7 286.9,223.9 291.9,223.4 290.3,226.6 286.2,227.9 282.1,226.6 279.6,228.2 277.1,229.9 274.9,227.3 273,225 273.3,221.9Z" fill="#fec45d"/>
<path d="M218.1,205.3 221.3,203.8 224.7,203.7 230,202.5 234.5,205.3 239.2,205.3 241.1,210.3 238.7,214.6 241.9,220.1 240.1,223.9 237.8,228.3 233.8,228.9 229.6,231.6 226.2,229.3 221.4,228.3 218.6,223.6 214.8,220.1 214.3,216.6 213.2,211.9 216,208.8Z" fill="#fec45d"/>
<path d="M191.9,198.8 201.7,198 203.4,205.3 200.1,211.9 192.7,210.3Z" fill="#fec45d"/>
<path d="M172.2,180.7 185.3,179.9 187.8,187.3 178.8,191.4 173,188.1Z" fill="#fec45d"/>
<path d="M193.5,37.3 197,36 201.7,32.4 208.8,29.1 213.2,27.5 215.7,30.2 218.1,32.4 221.3,32 224.7,30.7 225.1,35.9 226.3,38.9 222.7,40.2 218.1,40.6 214.6,42.2 211.6,40.6 205.6,42.3 201.7,40.6 196.8,38.7Z" fill="#fec45d"/>
<path d="M226.3,29.1 229.7,26.4 234.5,27 236.2,20.9 239.6,18.2 246,17.6 248.9,18.7 250.9,20.9 250.8,24.4 249.3,29.1 247,30.3 244.4,32.4 241.1,31.5 237.8,32.4 233.2,32.8 229.6,34 228.1,31.6Z" fill="#fec45d"/>
<path d="M267.3,17.6 274.4,18.1 277.9,20.1 283.7,20.9 289,18.8 292.4,22.2 295.2,27.5 298.8,30.1 305,32.4 297.6,30 291.9,32.4 285,29 278.8,29.1 274.7,25.9 270.6,25.8 266.6,21.6Z" fill="#fec45d"/>
<path d="M131.4,87.4 136.4,86.1 139.8,88.2 143.1,86.8 144.7,82.4 148.4,81.8 152.7,78.2 157.9,73.4 162.6,72.4 166.4,68 170.5,63.3 174.5,59.6 176.5,54.9 179.7,51.6 180.4,48.3 183.7,46 185.4,42.5 189.4,39.4 191.8,36.6 193.5,33.5 197.8,31.6 200.3,28.9 205.2,26.6 209.8,25.4 212.1,23.3 215.9,21.7 219.6,20.8 219.2,16.4 219.6,11.7 214.6,13.5 209.1,12.3 203.5,12.4 198.3,14.2 195.3,16.6 189.6,17 183.2,21.7 178.4,25 177.3,30.9 175.9,37.4 168.3,44.1 163.6,49.9 160.8,56 155.8,60.7 153.3,64 148.7,66.6 144.3,69.9 136.3,72.3 133.8,75.7 128.9,79.1 129.8,82.7Z" fill="#fec45d"/>
<path d="M131.4,113.2 140.8,113.2 141.3,101.6 140.8,94.9 140.3,87.4 131.4,87.4Z" fill="#fec45d"/>
<path d="M54.5,91.6 54.5,187.3 63.3,184.1 72.7,183.7 77.7,188.6 84.3,187.3 87.5,186 90.7,182 96.9,183 101.6,181.5 108.7,183 111.4,179.1 115.5,178.1 117.1,176 118,173.1 120.4,166.8 121.4,162.3 109,91.6Z" fill="#fee28c"/>
<path d="M-5,74.9 44.6,74.9 44.6,41.6 -5,41.6Z" fill="#fee28c"/>
<path d="M69.4,89.9 79.3,89.9 79.3,78.2 69.4,78.2Z" fill="#fee28c"/>
<path d="M59.5,12.5 74.4,12.5 74.4,4.2 59.5,4.2Z" fill="#fee28c"/>
<path d="M12.4,53.3 24.8,50.8 32.2,54.1 32.2,59.1 22.3,61.6 12.4,59.1Z" fill="#fec45d"/>
<path d="M-2.5,59.1 5,56.6 8.4,61.6 2.5,64.9 -2.5,64.1Z" fill="#fec45d"/>
<path d="M-5,16.6 5,16.6 5,0 -5,0Z" fill="#fec45d"/>
<path d="M46.7,311.9 46.7,223.4 89.4,203.7 95.1,202 99.2,203.7 102.3,207.5 104.1,210.3 106.6,213.7 109,215.2 110.4,218.2 110.7,221.7 110,225.1 109,228.3 110,231.2 112.3,234.8 116.1,237 118.9,238.9 122.4,239 124.6,237.3 125.9,234.5 127.1,230.7 130.5,228.8 133.6,226.6 135.9,223 136.1,220.1 136.4,217 138.5,215.2 141.8,218.5 145.1,221.7 149.5,220.3 154.9,220.1 157.9,220.3 161.5,221.7 165.4,219.5 169.7,220.1 173.5,220.6 177.5,221.7 177.5,311.9Z" fill="#fee28c"/>
<path d="M152.5,218.5 157.2,214.1 162.4,214.4 166.3,214.9 168.9,216 171.7,216.9 173.9,218.5 174.5,223.7 178.8,225 181.6,229.5 185.3,234.8 191.6,236.2 193.5,243 198.4,246.4 201.7,249.6 205.1,251.8 206.6,256.2 207.4,260.7 208.3,264.4 210.6,266.6 213.2,269.3 216.7,270.2 221.4,267.6 225.8,265.8 231.2,262.7 235.4,262.4 241.1,262.7 242,264.9 244.4,267.6 244.7,271.8 246,277.5 248.3,280.5 250.9,285.7 254.7,290.6 259.1,292.2 264.3,292.5 267.3,293.9 271.5,291 277.1,290.6 281.5,289.9 287,288.9 293.5,285.3 300.1,288.9 304.7,287.6 309,284.9 316.5,287.3 321.5,290 326.3,288.9 330.8,288.5 334.5,290.6 333.9,297.2 332.3,303 334.1,306.7 334.5,311.9 152.5,311.9Z" fill="#fee28c"/>
<path d="M332.5,37.3 328.8,38.9 328.7,44.4 326.3,47.1 321.8,46 319.8,48.8 315.7,50 309.9,53.7 309.4,59.3 305,61.9 301,63.5 296.8,65.2 292.6,63.4 288.6,65.2 284.4,64.8 282.1,62.7 277.1,64.6 273.9,65.2 270.2,67 267.3,66.8 265.3,69.6 265.7,73.4 264,76.6 260.7,74.1 257.5,73.4 251,71.1 244.4,71.7 241.1,72.7 237.8,75 234.3,76 232.9,78.3 229.6,81.6 229.6,86.5 233.1,89.5 237.8,91.4 241.6,93.4 244.4,93 247.1,95.4 250.9,95.5 253.5,98 257.5,98 253.3,101.7 250.9,104.5 254.5,107.5 257.5,107.8 262.3,108 267.3,104.5 272,102.2 277.1,101.2 281.4,102.8 283.7,104.5 287.8,104.3 293.5,106.2 296.3,105.5 300.1,104.5 301.2,108.8 305,114.4 304.9,122.3 305,127.5 307.1,129.8 309.9,130.7 313.1,132.3 316.5,135.7 320.4,138.5 323,142.2 324,147.5 324.7,152.1 322,153.5 318.1,154.5 319.8,156.2 318.8,159.7 316.5,164.4 314.3,167.1 309.9,169.3 307.7,171 305,174.2 308.5,175.4 309.9,177.5 311.9,179.3 314.8,182.4 314.7,186.3 316.5,190.6 319.7,192.7 319.8,197.1 322.2,200.9 323,205.3 326.8,208.5 332.5,208.6 335.3,208.6 335.3,37.3Z" fill="#fc7033"/>
<path d="M265.7,272.6 270.6,270.9 273.9,277.5 271.4,283.2 267.3,280.7Z" fill="#fd9d43"/>
<path d="M278.8,264.4 282.1,262 285.3,261.1 288.1,261 291.9,262.7 294.8,266.8 296.8,270.9 296.4,274.8 293.5,279.1 290.3,278 287,275.8 284.7,272.7 282.1,270.9 278.2,268.6Z" fill="#fd9d43"/>
<path d="M314.8,256.2 324.7,254.5 327.1,264.4 319.8,267.6Z" fill="#fd9d43"/>
<path d="M154.9,191.4 161.5,190.6 162.3,198 155.7,198.8Z" fill="#fd9d43"/>
<path d="M159.8,210.6 169.7,209.9 170,214.8 160.2,215.2Z" fill="#fd9d43"/>
<path d="M157.1,98.8 161.6,98 162.1,104.5 157.5,104.8Z" fill="#fc7033"/>
<path d="M229.6,116.3 237.8,115.7 238.1,120.6 229.9,121.2Z" fill="#fc7033"/>
</g>
<path d="M282.5,47.9 290,48.3 294.9,49.9 302.4,50.4 305.3,52 305.1,54.5 298.4,54.9 292.4,53.7 289.5,55.4 289,59.1 287.5,59.9 286.5,55.8 282.5,54.1Z" fill="#e5e5e5"/>
<path d="M294.9,59.1 298.4,59.9 296.4,61.6 295.4,60.8Z" fill="#e5e5e5"/>
<path d="M262.7,92.4 264.7,94.9 266.7,94.1 266.7,91.6 264.7,89.9 263,90.7Z" fill="#e5e5e5"/>
<path d="M283,86.6 285,88.2 286,86.6 285,84.1 283.3,84.5Z" fill="#e5e5e5"/>
<g fill="none" stroke="#1d1a0e" stroke-opacity="0.75" stroke-width="1.25" stroke-linejoin="round"><use href="#land"/><use href="#isl0"/><use href="#bord"/><path d="M126.1,172.3 130.9,169.2 131.4,172.3Z" fill="#1d1a0e" stroke="none"/></g>
</g>
<rect x="1124.1" y="382.8" width="2.6" height="7.6" fill="#333"/>
<text x="1125.4" y="408" font-size="15.2" text-anchor="middle" fill="#4d4d4d" textLength="39.5" lengthAdjust="spacingAndGlyphs">20°W</text>
<rect x="1198.4" y="382.8" width="2.6" height="7.6" fill="#333"/>
<text x="1199.7" y="408" font-size="15.2" text-anchor="middle" fill="#4d4d4d" textLength="31.3" lengthAdjust="spacingAndGlyphs">5°W</text>
<rect x="1272.8" y="382.8" width="2.6" height="7.6" fill="#333"/>
<text x="1274.1" y="408" font-size="15.2" text-anchor="middle" fill="#4d4d4d" textLength="35.3" lengthAdjust="spacingAndGlyphs">10°E</text>
<rect x="1347.1" y="382.8" width="2.6" height="7.6" fill="#333"/>
<text x="1348.4" y="408" font-size="15.2" text-anchor="middle" fill="#4d4d4d" textLength="35.3" lengthAdjust="spacingAndGlyphs">25°E</text>
<rect x="1421.5" y="382.8" width="2.6" height="7.6" fill="#333"/>
<text x="1422.8" y="408" font-size="15.2" text-anchor="middle" fill="#4d4d4d" textLength="35.3" lengthAdjust="spacingAndGlyphs">40°E</text>
<g clip-path="url(#cy)">
<rect x="70.2" y="382.1" width="7.3" height="2.6" fill="#333"/>
<text x="64.2" y="389" font-size="15.2" text-anchor="end" fill="#4d4d4d" textLength="36" lengthAdjust="spacingAndGlyphs">35°N</text>
<rect x="70.2" y="298.9" width="7.3" height="2.6" fill="#333"/>
<text x="64.2" y="305.8" font-size="15.2" text-anchor="end" fill="#4d4d4d" textLength="36" lengthAdjust="spacingAndGlyphs">45°N</text>
<rect x="70.2" y="215.6" width="7.3" height="2.6" fill="#333"/>
<text x="64.2" y="222.5" font-size="15.2" text-anchor="end" fill="#4d4d4d" textLength="36" lengthAdjust="spacingAndGlyphs">55°N</text>
<rect x="70.2" y="132.4" width="7.3" height="2.6" fill="#333"/>
<text x="64.2" y="139.3" font-size="15.2" text-anchor="end" fill="#4d4d4d" textLength="36" lengthAdjust="spacingAndGlyphs">65°N</text>
</g>
<rect x="77.5" y="503" width="332.1" height="44.7" fill="#d9d9d9"/>
<text x="243.9" y="533.4" font-size="22.6" text-anchor="middle" fill="#1a1a1a">MAM</text>
<g transform="translate(77.5,547.4)" clip-path="url(#cp)">
<rect width="332.1" height="308" fill="#e5e5e5"/>
<g mask="url(#clb)">
<rect width="332.1" height="308" fill="#e4edf4"/>
<path d="M241.6,17.5 236.7,24 231.9,28.1 227.4,28.6 222,27.4 217.5,30 215,33.8 211.3,36.6 205.6,40.5 201.8,45.5 198.2,47.3 195.1,50.4 192.5,53.6 195.8,60.2 194.1,65.6 192.5,70 199.4,73.5 205.6,73.3 202.3,79.6 197.9,81.6 192,86.4 189.2,92.9 184.6,95.5 178.1,97.1 174.6,96.2 169.5,96.2 167.4,104.2 167.6,110.1 166.4,114.6 166.2,119.1 171.8,121.7 176.4,121.9 180,127.3 176.1,135.5 179.5,138.9 182.7,141 189.2,138.8 193.2,142.2 195.9,144.9 202.3,148.6 204.5,153.5 205.6,158.5 204.9,162.6 202.2,168.2 203.3,172.2 202.3,178.1 203.9,181.9 204.6,185.8 205.6,191.2 201.6,191.9 195.7,191.2 190.8,193.7 184.1,194.9 179.7,194.2 176.1,194.5 175.3,199.2 169.5,199.4 163,197.8 156.2,198.7 151.5,201.1 146.6,201.1 141.7,203.7 138.5,206.9 136.7,210.9 140.3,217 136.7,224 137.1,231.4 142.4,232.6 143.3,237.1 141.3,242.2 141.9,249.1 143.3,256.8 146.9,261.4 150.3,267.3 149.4,270.8 149.9,276.4 153,280.7 156.4,285.3 164.9,285.6 169.5,289.5 222,309.2 335,309.2 335,64.1 329.3,68.3 324.9,69.8 320.9,65.1 315.3,63.4 312.1,66.6 307.2,68.3 304.2,65.7 300.6,61.8 298.3,57.7 294,56.9 290.8,56.5 287.5,53.6 282.4,51.5 279.9,49 274.4,43.8 269.3,41.7 266,38.8 260,38.4 254.7,37.2 252.2,31.5 251.4,27.4 246.8,24.5 245,20.4Z" fill="#fbe7dd"/>
<path d="M172.2,103.7 180.4,102.1 183.7,111.9 177.1,116.8 171.4,111.9Z" fill="#e4edf4"/>
<path d="M177.1,69.3 190.3,67.6 191.9,85.7 182.1,90.6 175.5,82.4Z" fill="#e4edf4"/>
<path d="M61.5,295.5 61.5,233.9 68.7,236 74.4,233.9 78.9,234.8 83.6,234.3 89.2,237.2 96.6,238.6 101.6,239.7 106.5,244.5 111.5,244.7 114.5,248.8 116.5,253.9 113.7,259.2 111.5,262.2 109.5,269.7 110,274.7 107.8,278.5 106.6,283 103.6,285.1 101.8,290.3 99.1,295.5 95.7,295 90.6,295.9 86.3,297.3 81.8,300.5 74.9,298.4 69.3,301 66.5,298.6Z" fill="#b2d5e8"/>
<path d="M61.5,270.5 69.4,270.5 71.9,250.6 61.5,250.6Z" fill="#e4edf4"/>
<path d="M76.8,244.7 91.7,244.7 91.7,233.9 76.8,233.9Z" fill="#e4edf4"/>
<path d="M91.7,270.5 100.1,268 101.6,258.1 94.2,256.4Z" fill="#e4edf4"/>
<path d="M78.3,308.8 86.7,308.8 86.7,300.1 78.3,300.1Z" fill="#b2d5e8"/>
<path d="M334.5,100.4 329.4,101.2 326.3,98.8 323.8,93.2 316.5,90.6 315.6,86.8 311.6,82.4 306.9,80.3 305,77.5 301,74.3 296.8,70.9 292.4,70.9 288.6,72.6 285.8,75.9 285.3,79.1 285,83.5 287,87.3 281.5,84.9 277.1,84 272.7,85.1 267.3,82.4 264.8,83.7 260.7,84 256,87.3 254.2,90.6 251.8,93.3 249.3,95.5 248.9,99.5 247.6,103.7 246.9,109.3 246.8,115.2 245.4,117.6 244.4,121.7 244,124.9 241.1,128.3 239.5,132.4 237.8,134.8 238,140.6 239.4,144.7 239.9,149 241.1,154.5 240.7,159 237.8,162.7 234.2,164.7 231.2,167.6 230,170.3 226.3,172.6 223.5,173.3 221.4,173.9 220.7,179.4 219.8,185.3 221.3,190.2 223,193.5 222.2,197.9 219.8,201.7 220.4,207.6 218.1,214.8 218.4,218.9 216.5,224.7 219,227 221.4,231.2 218.8,236.8 219.8,241.1 218.1,244.6 218.1,247.6 214.1,248.5 211.6,249.3 210.7,252.3 210.7,255.8 214.4,258.2 218.1,259.1 220.7,262.6 224.7,264 230.9,261 237.8,260.7 239.6,257.6 241.1,254.2 243.9,252.3 247.6,250.9 248.8,246.4 250.9,244.4 254.5,244.4 259.8,244.1 263.1,242.3 267.3,238.1 277.4,234.9 287.2,238 294.1,236.1 300.1,229.9 304.6,232 308.3,234.5 312.4,234.6 316.5,237.8 319,243.4 323.1,244.6 328.5,244 334.5,244.4Z" fill="#f9bda0"/>
<path d="M259.1,259.2 264,255.6 268.9,254 270.6,251 277.5,249.8 283.7,251 287.9,256.7 293.5,257.5 295.4,261.2 300.1,265.7 304.2,270.5 306.6,275.6 303.6,280.5 300.1,282.1 294.6,279.8 290.3,280.5 286.6,284.3 283.7,287 277.7,287.7 273.9,288.7 269.6,286.6 264,283.7 258.9,279.7 254.2,278.8 254.2,273.6 252.6,270.6 253.2,265.1 255.4,262.4Z" fill="#f9bda0"/>
<path d="M334.5,121.7 329.7,123.7 326.3,123.4 323.3,123.7 319.8,121.7 318.2,117.3 313.2,115.2 310.4,113 306.6,111.9 302.6,113.6 300.1,115.2 296.5,113.2 293.5,110.3 288.4,107.7 283.7,110.3 280.5,111.4 277.1,115.2 274.5,118.4 273.9,121.7 271.3,125.6 267.3,126.6 265.1,131.6 264,134.8 263.2,140.1 262.4,144.7 261.7,149.2 260.7,154.5 257.2,159.2 257.5,164.4 255.1,167.3 250.9,170.9 249,175.6 244.4,178.8 243.6,184.9 241.9,188.6 241.3,194.7 244.4,198.5 247.3,199.9 249.3,201.7 253,203.8 257.5,206.6 261.1,210.2 264,211.6 266.5,214.1 270.6,218.1 272.1,222.4 273.9,226.3 276.6,227.3 278.8,229.6 281.4,226.5 283.7,224.7 286.4,223.8 288.6,221.4 291.9,221.8 295.2,224.7 296.6,227.8 300.1,229.6 304.1,229.7 308.3,232.9 312.9,233.7 316.5,234.5 320.1,232.5 324.7,231.2 328.6,228.7 334.5,224.7Z" fill="#e48268"/>
<path d="M228,210 231.6,208.6 234.5,206.7 237.9,208.1 242.7,209.2 241.9,215.1 243.5,221.5 240.6,222.6 237.8,225.6 234.3,226.8 229.6,224.7 229.6,221.6 227.1,218.2 228.2,214.9Z" fill="#e48268"/>
<path d="M326.3,237.8 332.6,237 332.6,244.4 327.1,245.2Z" fill="#e48268"/>
<path d="M318.1,247.7 326.3,246.9 327.1,254.2 318.9,254.6Z" fill="#e48268"/>
<path d="M277.1,138.9 280.4,138.2 283.7,136.5 283.2,140.9 282.9,144.7 287.6,144.4 293.5,143 297,146.1 300.1,148 301.9,152.1 305,154.5 306.5,156.7 309.9,157.8 313.1,156.9 316.5,157.8 318.7,161.8 319.8,164.4 321.1,169.4 322.2,172.6 321.7,177.1 321.4,182.1 321.9,185.2 323,188.6 321.5,191.4 321.4,193.5 322.9,197.9 324.7,201.7 323.1,205.8 323,209.9 318.8,210.7 316.5,214.8 312.5,217 306.6,218.1 304.4,216.2 300.1,216.5 296.8,211 300.1,206.6 293.1,206.9 290.5,209.7 285.3,211.6 282.1,214.8 279.5,216.5 277.1,216.5 274.5,213.9 272.2,211.6 269.4,208.4 267.3,203.4 263.7,198.5 257.5,195.2 256.2,190.4 254.2,185.3 257,179.4 260.7,177.1 263.2,170.8 267.3,168.9 271,167.2 272.2,162.7 277.1,162.7 276.3,157.9 275.5,151.2 275,144.4Z" fill="#c4403c"/>
<path d="M288.6,185.4 295.2,182.9 297.6,191.9 291.9,201 287,196.9Z" fill="#e48268"/>
<path d="M273.9,169.8 279.6,169 280.1,175.6 274.2,175.9Z" fill="#8a0a25"/>
<path d="M295.2,200.1 306.6,198.5 307.5,205.1 300.1,206.7 295.5,205.4Z" fill="#8a0a25"/>
<path d="M70.4,164 76.8,164 77.8,155.7 70.4,154Z" fill="#fbe7dd"/>
<path d="M133.8,84.9 139.8,84.9 141.3,78.2 134.8,78.2Z" fill="#b2d5e8"/>
</g>
<path d="M262.7,92.4 264.7,94.9 266.7,94.1 266.7,91.6 264.7,89.9 263,90.7Z" fill="#e5e5e5"/>
<path d="M283,86.6 285,88.2 286,86.6 285,84.1 283.3,84.5Z" fill="#e5e5e5"/>
<g fill="none" stroke="#1d1a0e" stroke-opacity="0.75" stroke-width="1.25" stroke-linejoin="round"><use href="#land"/><use href="#isl0"/><use href="#bord"/><path d="M126.1,172.3 130.9,169.2 131.4,172.3Z" fill="#1d1a0e" stroke="none"/></g>
</g>
<rect x="86.1" y="854.8" width="2.6" height="7.6" fill="#333"/>
<text x="87.4" y="880" font-size="15.2" text-anchor="middle" fill="#4d4d4d" textLength="39.5" lengthAdjust="spacingAndGlyphs">20°W</text>
<rect x="160.4" y="854.8" width="2.6" height="7.6" fill="#333"/>
<text x="161.7" y="880" font-size="15.2" text-anchor="middle" fill="#4d4d4d" textLength="31.3" lengthAdjust="spacingAndGlyphs">5°W</text>
<rect x="234.8" y="854.8" width="2.6" height="7.6" fill="#333"/>
<text x="236.1" y="880" font-size="15.2" text-anchor="middle" fill="#4d4d4d" textLength="35.3" lengthAdjust="spacingAndGlyphs">10°E</text>
<rect x="309.1" y="854.8" width="2.6" height="7.6" fill="#333"/>
<text x="310.4" y="880" font-size="15.2" text-anchor="middle" fill="#4d4d4d" textLength="35.3" lengthAdjust="spacingAndGlyphs">25°E</text>
<rect x="383.5" y="854.8" width="2.6" height="7.6" fill="#333"/>
<text x="384.8" y="880" font-size="15.2" text-anchor="middle" fill="#4d4d4d" textLength="35.3" lengthAdjust="spacingAndGlyphs">40°E</text>
<rect x="423.4" y="503" width="332.1" height="44.7" fill="#d9d9d9"/>
<text x="589.9" y="533.4" font-size="22.6" text-anchor="middle" fill="#1a1a1a">JJA</text>
<g transform="translate(423.4,547.4)" clip-path="url(#cp)">
<rect width="332.1" height="308" fill="#e5e5e5"/>
<g mask="url(#clb)">
<rect width="332.1" height="308" fill="#e4edf4"/>
<path d="M103.1,236.2 107.3,232.3 111.3,232.9 115.6,231.1 121.1,229.6 125.7,225.4 129.3,221.5 131.3,218.8 135.9,218.2 138.7,222.7 142.5,224.7 143,228.4 144.1,232.9 140.6,235.6 137.5,236.2 131.6,238.2 127.7,239.5 127.6,243.3 122.8,244.4 119,240.3 114.6,241.1 111.1,239.9 108,239.5 105.3,238.1Z" fill="#b2d5e8"/>
<path d="M96.6,246 99.7,245.8 103.1,244.4 104.1,248.1 108,251 107.6,255.5 104.7,259.2 103.1,261.5 101.5,264.1 97.9,262.3 94.9,260.8 97.2,257.4 98.2,252.6 96.5,248.9Z" fill="#b2d5e8"/>
<path d="M117.9,249.3 124.4,246 124.4,252.6 119.5,254.2Z" fill="#b2d5e8"/>
<path d="M81.8,265.7 94.9,262.4 101.5,267.4 94.9,272.3 88.4,270.6 81.8,269Z" fill="#b2d5e8"/>
<path d="M73.6,283.7 78.3,282.8 81.8,280.5 84.5,283.2 88.4,283.7 93.8,286.1 98.2,287 102.2,286.9 104.7,283.7 104.7,286.4 103.1,290.3 99.3,292.6 94.9,295.2 89.4,296.6 85.1,296.9 82.1,295.6 78.5,293.6 74.5,291.5 72,290.3 73.1,286.7Z" fill="#b2d5e8"/>
<path d="M61.3,273.9 68.7,274.7 69.5,290.3 62.1,289.5Z" fill="#b2d5e8"/>
<path d="M78.5,291.9 178.5,288.7 178.5,310 78.5,310Z" fill="#b2d5e8"/>
<path d="M149,257.5 158,257.5 158,275.6 149,275.6Z" fill="#b2d5e8"/>
<path d="M169.5,281.3 178.5,281.3 178.5,289.5 169.5,289.5Z" fill="#b2d5e8"/>
<path d="M158,235.5 165.8,236.9 171.7,237.8 176.1,238.7 180.9,243.5 184.4,246.2 186.5,250 189.2,255.1 190.5,260.8 193.2,264 200.6,266.6 196.4,271.1 192.9,275.8 192.5,279.7 188.6,278.9 184.8,274.4 182.6,269.6 179.3,268.2 175.3,265.6 170.3,260.9 167.9,253.5 168.4,248.4 164.5,241.7 162.3,237.3Z" fill="#b2d5e8"/>
<path d="M57.2,162.4 70.3,162.4 70.3,167.7 57.2,167.7Z" fill="#b2d5e8"/>
<path d="M151.6,82.4 157,81.2 161.5,79.1 165.6,79.9 171.3,79.9 176.4,79.8 182.2,82.6 189.2,84.7 194.3,80.7 193.9,85.2 195.9,90.6 199.2,92.3 200.8,97.1 200.7,99.5 202.5,102.1 198.9,105.4 195.9,111.9 192.7,116.9 191,120.1 188.5,121.8 184.4,121.7 180.7,116.8 176.2,118.5 172.4,118.9 169.7,116.8 167.4,114.7 164.7,111.9 164.2,109.2 163.1,105.3 161.5,103.8 158.2,103.7 155.8,107.2 153.3,111.9 150,114.5 145.9,114.4 145.4,111.8 143.4,108.6 142.7,105.5 142.6,102.1 145.2,99.9 148.4,95.5 151.7,93.3 153.3,90.6 152.9,86.7Z" fill="#b2d5e8"/>
<path d="M82.8,111.9 87.5,110.5 91,111.1 94.1,112.7 97.5,115.2 99.9,117.9 100.8,121.7 97.9,126.8 95.9,129.9 96.1,132.2 97.5,134.8 99.3,138.3 102.5,141.4 100.8,144.7 99.2,139.8 95.9,136.5 92.7,134.1 89.3,131.6 87.1,128.2 84.4,123.4 82,118Z" fill="#b2d5e8"/>
<path d="M69.7,79.9 77.9,79.9 77.9,88.1 69.7,88.1Z" fill="#b2d5e8"/>
<path d="M100,93.9 105.7,93.9 105.7,100.4 100,100.4Z" fill="#b2d5e8"/>
<path d="M198.4,116.8 204.1,116.8 204.1,125 198.4,125Z" fill="#b2d5e8"/>
<path d="M187.7,123.4 192.6,123.4 192.6,131.6 187.7,131.6Z" fill="#b2d5e8"/>
<path d="M59.8,162.7 69.7,162.7 69.7,167 59.8,167Z" fill="#b2d5e8"/>
<path d="M208.4,60.3 210.2,55.4 214.1,53.7 217.8,52.3 220.6,52.1 226.7,52 232.1,53.7 231.4,57 233.8,58.6 230.8,61.5 227.2,65.2 226.1,70.2 220.6,71.7 218,72.8 215.7,73.4 215.4,70 217.4,66.8 222,63.3 225.6,60.3 227.1,58.3 228.8,56.2 225.8,54.3 220.6,55.3 217.6,57.3 214.1,60.3 212.9,63.1 210.8,66.8 210.3,64Z" fill="#b2d5e8"/>
<path d="M-0.9,1.2 5.7,1.2 5.7,14.3 -0.9,14.3Z" fill="#b2d5e8"/>
<path d="M321.9,289.5 335,289.5 335,309.2 321.9,309.2Z" fill="#b2d5e8"/>
<path d="M182.8,157.8 187,155.3 191,154.5 194.7,152.8 200.8,152.9 204.4,154.3 207.4,156.2 211.1,158.8 213.9,164.4 213.9,169.3 209.5,170.6 204.1,170.9 200.9,173.2 199.2,175.8 194.4,177.7 191,174.2 188,174.5 184.4,175.8 181.5,175.9 177.9,174.2 174.7,175.7 171.3,175.8 171.1,173.1 169.7,170.9 174.2,168.3 177.9,166 180,164.7 181.1,161.1Z" fill="#fbe7dd"/>
<path d="M191,180.7 193.7,182.4 197.5,184 200.4,185.6 204.1,185.7 207.7,184.2 212.3,185.7 215.9,189 218.8,193.9 219.6,197.2 222.1,200.4 218.8,203.6 218.8,207 214.8,209.2 210.6,211.9 204.3,211.8 197.5,211.9 195.9,206.9 194.3,202.1 190.9,198 192.6,192.2 191.5,187.2Z" fill="#fbe7dd"/>
<path d="M109.8,156.2 113.1,156.2 113.1,159.8 109.8,159.8Z" fill="#fbe7dd"/>
<path d="M111.5,167.6 114.7,167.6 114.7,171.9 111.5,171.9Z" fill="#fbe7dd"/>
<path d="M147.5,170.9 152.5,170.9 152.5,175.2 147.5,175.2Z" fill="#fbe7dd"/>
<path d="M245.2,20.9 245.6,23.6 248.5,25.8 248.2,29 248.5,32.4 250.4,37 250.2,42.2 254.1,47.3 253.4,53.7 254.2,59.8 258.4,65.2 261,72 263.3,76.6 265.1,78.7 264.9,81.6 267.9,82.5 271.5,84.8 271.1,88.9 273.1,93 273.4,95.3 271.5,98 277.5,98.3 281.3,101.2 286.5,103.7 291.1,106.2 295.6,108.9 297.7,114.4 300.3,117.5 304.3,122.6 307.2,125.1 307.6,130.1 314.1,130.7 317.6,135.6 323.9,138.9 325.6,143.1 330.5,147.1 332.2,152 332.9,155.6 332.1,161.9 333.8,161.9 333.8,19.3 327.7,20.9 322.2,22.6 318.1,19.8 314.1,16 305.4,17.3 300.4,19.7 291.7,13 281.3,12.7 273.2,13.9 267.9,17.5 262.4,14.6 258.4,14.4 253.4,19.5 248.4,20.4Z" fill="#fbe7dd"/>
<path d="M307.2,204.3 317,191.2 328.5,178.1 335,171.6 335,212.5 320.3,210.9Z" fill="#fbe7dd"/>
<path d="M287.9,71.7 290.3,69 294.4,65.2 301,65.6 307.5,61.9 309.1,58.3 310.8,53.7 314.9,51.8 320.6,48.8 325.9,48.4 328.9,49.6 333.8,50.4 333.8,114.4 329.2,110.7 323.9,111.1 323.6,105.1 320.6,101.2 319.2,96.6 314.1,93 312.5,89 307.5,84.8 301.7,83.4 297.7,78.3 294.8,78.2 291.1,76.6 288.3,75.4Z" fill="#f9bda0"/>
<path d="M292.8,42.6 307.5,41.9 307.9,45.8 293.1,46.2Z" fill="#f9bda0"/>
<path d="M238.3,266.6 240.4,262.4 243.7,259.1 247.1,256.2 251.4,253.5 256.1,253.4 261.3,252.6 266.6,249.4 271.1,246.9 275.9,245.8 279.6,247 285.1,248.7 290.8,253.5 290.2,256.8 292.5,261.3 295.3,264.9 294,269.9 290.2,276.8 289.6,281.8 287.5,286.3 282,285.9 275.4,288.1 267.8,289.5 260.6,292.2 255.5,290.8 250.3,289.7 248.2,286.3 245.6,279.3 242.7,274.4 242,269.4Z" fill="#fbe7dd"/>
<path d="M258,263.3 271.1,253.5 284.2,260 284.2,276.4 271.1,283 259.6,276.4Z" fill="#f9bda0"/>
<path d="M261.3,210.9 287.5,209.3 289.1,224 262.9,224.7Z" fill="#fbe7dd"/>
<path d="M244.2,224 254.7,224 254.7,250.2 244.2,250.2Z" fill="#fbe7dd"/>
<path d="M0.7,52 22,52.9 22.7,68.3 1.4,68.3Z" fill="#fbe7dd"/>
</g>
<path d="M262.7,92.4 264.7,94.9 266.7,94.1 266.7,91.6 264.7,89.9 263,90.7Z" fill="#e5e5e5"/>
<path d="M283,86.6 285,88.2 286,86.6 285,84.1 283.3,84.5Z" fill="#e5e5e5"/>
<g fill="none" stroke="#1d1a0e" stroke-opacity="0.75" stroke-width="1.25" stroke-linejoin="round"><use href="#land"/><use href="#isl0"/><use href="#bord"/><path d="M126.1,172.3 130.9,169.2 131.4,172.3Z" fill="#1d1a0e" stroke="none"/></g>
</g>
<rect x="432.1" y="854.8" width="2.6" height="7.6" fill="#333"/>
<text x="433.4" y="880" font-size="15.2" text-anchor="middle" fill="#4d4d4d" textLength="39.5" lengthAdjust="spacingAndGlyphs">20°W</text>
<rect x="506.4" y="854.8" width="2.6" height="7.6" fill="#333"/>
<text x="507.7" y="880" font-size="15.2" text-anchor="middle" fill="#4d4d4d" textLength="31.3" lengthAdjust="spacingAndGlyphs">5°W</text>
<rect x="580.8" y="854.8" width="2.6" height="7.6" fill="#333"/>
<text x="582.1" y="880" font-size="15.2" text-anchor="middle" fill="#4d4d4d" textLength="35.3" lengthAdjust="spacingAndGlyphs">10°E</text>
<rect x="655.1" y="854.8" width="2.6" height="7.6" fill="#333"/>
<text x="656.4" y="880" font-size="15.2" text-anchor="middle" fill="#4d4d4d" textLength="35.3" lengthAdjust="spacingAndGlyphs">25°E</text>
<rect x="729.5" y="854.8" width="2.6" height="7.6" fill="#333"/>
<text x="730.8" y="880" font-size="15.2" text-anchor="middle" fill="#4d4d4d" textLength="35.3" lengthAdjust="spacingAndGlyphs">40°E</text>
<rect x="769.5" y="503" width="332.1" height="44.7" fill="#d9d9d9"/>
<text x="935.9" y="533.4" font-size="22.6" text-anchor="middle" fill="#1a1a1a">SON</text>
<g transform="translate(769.5,547.4)" clip-path="url(#cp)">
<rect width="332.1" height="308" fill="#e5e5e5"/>
<g mask="url(#clb)">
<rect width="332.1" height="308" fill="#e4edf4"/>
<path d="M202.3,158.5 203.9,153.6 208,149.4 215.4,148.6 220.4,148 227.2,147.8 234.6,151.5 241.6,148.6 245.3,149.8 248.5,154.2 254.7,158.5 261.4,161.8 263.6,166.9 264.6,171.6 266.6,175.5 270.6,178.7 277.7,181.4 279.5,187.3 282.6,194.5 282.2,199.5 281.2,202.7 277.7,207.6 271.7,211.6 267.8,214.2 263.9,220.5 260.1,220.1 254.7,217.4 250.9,221 247.4,223.2 248.2,230.6 247.7,234.7 245.5,239.4 244.9,246.9 240.2,250.8 235.1,253.5 230.6,259.6 228.5,266.6 224.5,262.9 222,260 218.6,256.6 215.4,250.2 212.5,245.6 208.3,243.1 205.6,237.1 202.4,237.2 197.6,237 195.4,231.2 195.7,227.3 190.5,222.8 185.9,220.7 183.2,215.8 179.7,213.1 176.1,210.9 171,205.6 171.9,201.3 172.8,197.8 177.2,196.1 179.3,191.2 185.6,189.9 189.2,188 190.5,182.7 193.4,180.6 199,178.1 202,174.3 202.3,168.3 199.3,163.3Z" fill="#fbe7dd"/>
<path d="M156.4,197.8 176.1,196.1 176.1,202.7 156.4,203.7Z" fill="#fbe7dd"/>
<path d="M133.8,81.6 136.6,78.4 140.4,76.6 143.7,70.5 150.2,68.5 151.2,64.4 153.3,60.2 157.7,61.8 163.3,60.3 169.2,57.3 170.6,53.9 169.9,48.8 172.1,44.4 174.3,41.2 178.1,37.6 179.7,32.4 184.9,29.7 189.6,24.2 194.6,22.1 199.4,17.6 202.8,16.6 208.2,16.3 212.1,16.1 215.8,12.7 218.6,13.5 222.4,14.4 219.5,17.5 217.4,20.9 213.3,24.1 209.2,24.2 206.3,28.5 206,34 206,37.1 207.6,38.9 203.1,40.3 199.4,43.9 195.5,44.3 192.8,43.9 190.4,47.2 187.9,48.8 185.9,51.4 184.6,55.3 186.9,60.9 183,65.2 182.5,69.1 181.4,73.4 177.7,76.3 171.5,75 169.5,72.4 168.3,70.1 166.7,72.8 163.3,76.6 162.7,79.1 160.1,81.6 156.9,79.7 153.5,78.3 149.8,80.1 146.9,79.9 141.2,83.8 137.1,86.5 136.2,84.3Z" fill="#b2d5e8"/>
<path d="M128.9,78.3 131.1,80.9 133.8,81.6 136.5,85.1 137.1,88.1 137.7,95.9 137.9,101.2 137.3,108.5 140.4,112.7 138.7,115.2 136.4,110.3 135.5,104.5 135.1,100.5 133.5,96.5 133,91.4 128.9,91.4 129.9,86.7 130.1,83.4Z" fill="#b2d5e8"/>
<path d="M222.4,9.4 227.8,9.8 234.7,10.9 241.3,9 245.3,7.8 250,11.4 254.2,13.6 258.5,14.6 265,12.7 270.5,14.9 274.8,15.7 274,18.6 268.2,15 261.7,17 255.1,17 250.1,16.4 245.3,13 237.6,13.6 232.4,14.4 228.9,14 225,11.7Z" fill="#b2d5e8"/>
<path d="M207.6,56.2 211,55.1 215.8,52.1 220.1,52.3 223.9,51.3 228.9,51.2 231.9,53.6 234.6,55.3 233.5,58.3 233,61.9 228,65.4 225.6,68.5 223.3,71 219.9,73.4 218.5,76.2 215.8,76.6 215.4,82.6 218.2,85.6 215.5,91.4 212.5,91.4 211.4,85.9 212.1,80.7 212.2,73.4 213.7,69 215.8,65.2 212.5,63.5 208.4,63.5 207.7,59.3Z" fill="#b2d5e8"/>
<path d="M5.7,50.3 28.6,51 29.3,63.4 18.8,65.1 6.3,61.8Z" fill="#b2d5e8"/>
<path d="M107.3,301 146.6,301 146.6,308.6 107.3,308.6Z" fill="#fbe7dd"/>
<path d="M-0.9,1.2 5.7,1.2 5.7,14.3 -0.9,14.3Z" fill="#b2d5e8"/>
</g>
<path d="M262.7,92.4 264.7,94.9 266.7,94.1 266.7,91.6 264.7,89.9 263,90.7Z" fill="#e5e5e5"/>
<path d="M283,86.6 285,88.2 286,86.6 285,84.1 283.3,84.5Z" fill="#e5e5e5"/>
<g fill="none" stroke="#1d1a0e" stroke-opacity="0.75" stroke-width="1.25" stroke-linejoin="round"><use href="#land"/><use href="#isl0"/><use href="#bord"/><path d="M126.1,172.3 130.9,169.2 131.4,172.3Z" fill="#1d1a0e" stroke="none"/></g>
</g>
<rect x="778.1" y="854.8" width="2.6" height="7.6" fill="#333"/>
<text x="779.4" y="880" font-size="15.2" text-anchor="middle" fill="#4d4d4d" textLength="39.5" lengthAdjust="spacingAndGlyphs">20°W</text>
<rect x="852.4" y="854.8" width="2.6" height="7.6" fill="#333"/>
<text x="853.7" y="880" font-size="15.2" text-anchor="middle" fill="#4d4d4d" textLength="31.3" lengthAdjust="spacingAndGlyphs">5°W</text>
<rect x="926.8" y="854.8" width="2.6" height="7.6" fill="#333"/>
<text x="928.1" y="880" font-size="15.2" text-anchor="middle" fill="#4d4d4d" textLength="35.3" lengthAdjust="spacingAndGlyphs">10°E</text>
<rect x="1001.1" y="854.8" width="2.6" height="7.6" fill="#333"/>
<text x="1002.4" y="880" font-size="15.2" text-anchor="middle" fill="#4d4d4d" textLength="35.3" lengthAdjust="spacingAndGlyphs">25°E</text>
<rect x="1075.5" y="854.8" width="2.6" height="7.6" fill="#333"/>
<text x="1076.8" y="880" font-size="15.2" text-anchor="middle" fill="#4d4d4d" textLength="35.3" lengthAdjust="spacingAndGlyphs">40°E</text>
<rect x="1115.5" y="503" width="332.1" height="44.7" fill="#d9d9d9"/>
<text x="1281.9" y="533.4" font-size="22.6" text-anchor="middle" fill="#1a1a1a">DJF</text>
<g transform="translate(1115.5,547.4)" clip-path="url(#cp)">
<rect width="332.1" height="308" fill="#e5e5e5"/>
<g mask="url(#clb)">
<rect width="332.1" height="308" fill="#e4edf4"/>
<path d="M55.5,173.1 79.8,167.3 81.8,149.8 82.8,138.2 69.4,136.5 54.5,141.5Z" fill="#b2d5e8"/>
<path d="M71.2,119.1 78,115.7 80.5,110.5 84.3,109.3 87.5,112.5 90.2,114.9 95.5,116.4 100.7,115.9 102.1,122.8 104.2,127.2 100,133.3 100.7,138.8 97.4,145.2 94.1,151.9 88.7,150.2 84.3,148.6 82.6,142 80.9,139.4 77.8,135.5 75.3,129.4 72.2,126.6Z" fill="#b2d5e8"/>
<path d="M130.2,153.5 143.3,152.9 144,161.7 130.8,162.4Z" fill="#b2d5e8"/>
<path d="M66.3,253.5 72.6,251.8 77.3,253.7 81.2,251.7 84.3,248.6 89.1,252.7 90.9,256.8 89,259.6 89.1,264.6 87.6,269.9 90.1,272.2 94.7,274.2 100.7,273.2 104.3,275.8 107.3,279.7 104.1,283.1 101.6,288.2 97.4,292.8 90.9,292.7 86.7,296.3 81,301 77,294.7 71.2,289.5 70.6,285.6 68.7,279.6 66.3,273.2 68,268.3 68.4,264.1 68.1,259.3Z" fill="#b2d5e8"/>
<path d="M62,250.2 74.5,250.2 74.5,289.5 62,289.5Z" fill="#b2d5e8"/>
<path d="M81,294.5 123.6,294.5 123.6,308.6 81,308.6Z" fill="#b2d5e8"/>
<path d="M299,266.6 303.6,265.4 308.6,264 310.4,256.8 315.2,253.6 319.1,251.8 323.5,253.5 328.6,248.9 335,246.9 336.3,252.7 337.7,261.8 335.5,273.1 335,283 328.5,283 324.4,285.2 320.3,284.6 314.5,280.5 307.2,279.7 306,274.9 303.4,272.1Z" fill="#b2d5e8"/>
<path d="M134.6,81.6 143.7,80.7 144,88.1 135,88.5Z" fill="#b2d5e8"/>
<path d="M174.8,32.4 175.9,26.6 179.7,24.2 186.7,24.1 191,21.4 192.8,17.6 200.1,17.2 204.6,15.4 209.2,11.1 216.9,3.7 224.7,5.1 229.4,5 235.5,7 240.2,10.5 246.5,8.5 251.3,10.8 258.4,10.3 262.6,13.4 266.2,15.5 271,15.4 274.8,16.8 278.1,18.7 281.7,21.5 287.9,21.7 291,26.6 296.1,29.1 293.8,33.7 292.8,37.3 291.9,40.9 287.9,43.9 287.1,46.2 284.6,48.8 290.1,52.9 294.5,53.7 293.2,61.2 295.4,66.5 295.1,73.4 294.5,78.3 294.3,84.6 292.8,91.4 294.1,97.9 296.1,104.5 292.2,107.8 287.9,114.4 287.3,119.1 283,124.2 285.5,129.8 286.3,134 286.2,141.7 287.9,147.1 289.8,153.6 290.3,157.6 292.8,161.9 289.8,166.3 284.6,168.5 279.9,166.9 274.8,166.8 273.5,171 268.3,175 263.5,173.2 260.1,171.7 256.1,167.9 251.9,163.5 244.4,162.1 238.7,161.9 234.2,160.3 230.5,157 228.8,152.9 228.9,147.1 226.7,143.5 225.6,137.3 225.6,133.8 227.3,129.1 224.9,126.4 222.4,125.8 226.9,121.9 228.9,117.6 229,113.6 228.9,111.1 232.2,110 235.5,107.8 240.8,107.8 245.3,106.2 247.9,103.3 248.6,99.6 253.1,96.9 258.4,96.3 260.3,92.4 261.7,88.1 262.6,83.4 265,78.3 262.1,74.7 261.7,71.7 260.2,65.9 255.1,61.9 249.5,60.5 245.3,61.9 240.3,64.1 235.5,65.2 233.4,68.4 228.9,70.1 224,69.1 219.1,72.6 219.6,69.6 219.9,65.2 223.2,59.2 222.6,54.9 225.6,48.8 220.4,49.5 215.8,47.1 215.4,43.1 212.5,38.9 208.9,36.5 206,37.3 200.6,38.9 194.5,39.8 192.8,35.7 194.7,32.5 196.1,30.7 190.8,32.2 184.6,33.2 180.2,33.5Z" fill="#fbe7dd"/>
<path d="M235.5,47.1 245.3,46.8 245.6,55.3 235.8,55.7Z" fill="#e4edf4"/>
<path d="M263.3,61.9 274.8,61.6 275.1,68.5 263.7,68.8Z" fill="#e4edf4"/>
<path d="M263.3,50.4 269.9,50.1 270.2,55.3 263.7,55.7Z" fill="#e4edf4"/>
<path d="M244.9,263.3 254.7,258.4 264.6,261.7 262.9,276.4 254.7,289.5 245.5,286.3Z" fill="#fbe7dd"/>
<path d="M172.8,238.7 181,237.1 186.6,251.9 179.3,253.5Z" fill="#fbe7dd"/>
<path d="M307.2,216.8 320.3,215.8 320.9,225.6 307.8,226.3Z" fill="#fbe7dd"/>
</g>
<path d="M262.7,92.4 264.7,94.9 266.7,94.1 266.7,91.6 264.7,89.9 263,90.7Z" fill="#e5e5e5"/>
<path d="M283,86.6 285,88.2 286,86.6 285,84.1 283.3,84.5Z" fill="#e5e5e5"/>
<g fill="none" stroke="#1d1a0e" stroke-opacity="0.75" stroke-width="1.25" stroke-linejoin="round"><use href="#land"/><use href="#isl0"/><use href="#bord"/><path d="M126.1,172.3 130.9,169.2 131.4,172.3Z" fill="#1d1a0e" stroke="none"/></g>
</g>
<rect x="1124.1" y="854.8" width="2.6" height="7.6" fill="#333"/>
<text x="1125.4" y="880" font-size="15.2" text-anchor="middle" fill="#4d4d4d" textLength="39.5" lengthAdjust="spacingAndGlyphs">20°W</text>
<rect x="1198.4" y="854.8" width="2.6" height="7.6" fill="#333"/>
<text x="1199.7" y="880" font-size="15.2" text-anchor="middle" fill="#4d4d4d" textLength="31.3" lengthAdjust="spacingAndGlyphs">5°W</text>
<rect x="1272.8" y="854.8" width="2.6" height="7.6" fill="#333"/>
<text x="1274.1" y="880" font-size="15.2" text-anchor="middle" fill="#4d4d4d" textLength="35.3" lengthAdjust="spacingAndGlyphs">10°E</text>
<rect x="1347.1" y="854.8" width="2.6" height="7.6" fill="#333"/>
<text x="1348.4" y="880" font-size="15.2" text-anchor="middle" fill="#4d4d4d" textLength="35.3" lengthAdjust="spacingAndGlyphs">25°E</text>
<rect x="1421.5" y="854.8" width="2.6" height="7.6" fill="#333"/>
<text x="1422.8" y="880" font-size="15.2" text-anchor="middle" fill="#4d4d4d" textLength="35.3" lengthAdjust="spacingAndGlyphs">40°E</text>
<g clip-path="url(#cy)">
<rect x="70.2" y="854.1" width="7.3" height="2.6" fill="#333"/>
<text x="64.2" y="861" font-size="15.2" text-anchor="end" fill="#4d4d4d" textLength="36" lengthAdjust="spacingAndGlyphs">35°N</text>
<rect x="70.2" y="770.9" width="7.3" height="2.6" fill="#333"/>
<text x="64.2" y="777.8" font-size="15.2" text-anchor="end" fill="#4d4d4d" textLength="36" lengthAdjust="spacingAndGlyphs">45°N</text>
<rect x="70.2" y="687.6" width="7.3" height="2.6" fill="#333"/>
<text x="64.2" y="694.5" font-size="15.2" text-anchor="end" fill="#4d4d4d" textLength="36" lengthAdjust="spacingAndGlyphs">55°N</text>
<rect x="70.2" y="604.4" width="7.3" height="2.6" fill="#333"/>
<text x="64.2" y="611.3" font-size="15.2" text-anchor="end" fill="#4d4d4d" textLength="36" lengthAdjust="spacingAndGlyphs">65°N</text>
</g>
<text x="39" y="41.8" font-size="20.5" fill="#000">a)</text>
<text x="39" y="514" font-size="20.5" fill="#000">b)</text>
<rect x="404.4" y="439.4" width="94.9" height="23.2" fill="#fff4b8"/>
<rect x="499" y="439.4" width="93" height="23.2" fill="#fee28c"/>
<rect x="591.7" y="439.4" width="93" height="23.2" fill="#fec45d"/>
<rect x="684.4" y="439.4" width="93" height="23.2" fill="#fd9d43"/>
<rect x="777.1" y="439.4" width="93" height="23.2" fill="#fc7033"/>
<rect x="869.8" y="439.4" width="93" height="23.2" fill="#f03723"/>
<rect x="962.5" y="439.4" width="93" height="23.2" fill="#d20f26"/>
<rect x="1055.2" y="439.4" width="94.7" height="23.2" fill="#9d0026"/>
<rect x="405.7" y="439.4" width="1.2" height="23.2" fill="#fff" opacity="0.45"/>
<text x="406.3" y="484.6" font-size="16.6" text-anchor="middle" fill="#1a1a1a" textLength="24.6" lengthAdjust="spacingAndGlyphs">0.0</text>
<rect x="498.4" y="439.4" width="1.2" height="23.2" fill="#fff" opacity="0.45"/>
<text x="499" y="484.6" font-size="16.6" text-anchor="middle" fill="#1a1a1a" textLength="24.6" lengthAdjust="spacingAndGlyphs">0.5</text>
<rect x="591.1" y="439.4" width="1.2" height="23.2" fill="#fff" opacity="0.45"/>
<text x="591.7" y="484.6" font-size="16.6" text-anchor="middle" fill="#1a1a1a" textLength="24.6" lengthAdjust="spacingAndGlyphs">1.0</text>
<rect x="683.8" y="439.4" width="1.2" height="23.2" fill="#fff" opacity="0.45"/>
<text x="684.4" y="484.6" font-size="16.6" text-anchor="middle" fill="#1a1a1a" textLength="24.6" lengthAdjust="spacingAndGlyphs">1.5</text>
<rect x="776.5" y="439.4" width="1.2" height="23.2" fill="#fff" opacity="0.45"/>
<text x="777.1" y="484.6" font-size="16.6" text-anchor="middle" fill="#1a1a1a" textLength="24.6" lengthAdjust="spacingAndGlyphs">2.0</text>
<rect x="869.2" y="439.4" width="1.2" height="23.2" fill="#fff" opacity="0.45"/>
<text x="869.8" y="484.6" font-size="16.6" text-anchor="middle" fill="#1a1a1a" textLength="24.6" lengthAdjust="spacingAndGlyphs">2.5</text>
<rect x="961.9" y="439.4" width="1.2" height="23.2" fill="#fff" opacity="0.45"/>
<text x="962.5" y="484.6" font-size="16.6" text-anchor="middle" fill="#1a1a1a" textLength="24.6" lengthAdjust="spacingAndGlyphs">3.0</text>
<rect x="1054.6" y="439.4" width="1.2" height="23.2" fill="#fff" opacity="0.45"/>
<text x="1055.2" y="484.6" font-size="16.6" text-anchor="middle" fill="#1a1a1a" textLength="24.6" lengthAdjust="spacingAndGlyphs">3.5</text>
<rect x="1147.3" y="439.4" width="1.2" height="23.2" fill="#fff" opacity="0.45"/>
<text x="1147.9" y="484.6" font-size="16.6" text-anchor="middle" fill="#1a1a1a" textLength="24.6" lengthAdjust="spacingAndGlyphs">4.0</text>
<text x="376.3" y="456" font-size="16.6" fill="#1a1a1a" textLength="19.4" lengthAdjust="spacingAndGlyphs">°C</text>
<rect x="394.4" y="912.8" width="75.4" height="21.9" fill="#154a85"/>
<rect x="469.5" y="912.8" width="74.6" height="21.9" fill="#337cb7"/>
<rect x="543.8" y="912.8" width="74.6" height="21.9" fill="#6eacd2"/>
<rect x="618.1" y="912.8" width="74.6" height="21.9" fill="#b2d5e8"/>
<rect x="692.4" y="912.8" width="74.6" height="21.9" fill="#e4edf4"/>
<rect x="766.7" y="912.8" width="74.6" height="21.9" fill="#fbe7dd"/>
<rect x="841" y="912.8" width="74.6" height="21.9" fill="#f9bda0"/>
<rect x="915.3" y="912.8" width="74.6" height="21.9" fill="#e48268"/>
<rect x="989.6" y="912.8" width="74.6" height="21.9" fill="#c4403c"/>
<rect x="1063.9" y="912.8" width="75.5" height="21.9" fill="#8a0a25"/>
<rect x="394.6" y="912.8" width="1.2" height="21.9" fill="#fff" opacity="0.45"/>
<text x="395.7" y="957" font-size="16.6" text-anchor="middle" fill="#1a1a1a" textLength="24.6" lengthAdjust="spacingAndGlyphs">0.0</text>
<rect x="468.9" y="912.8" width="1.2" height="21.9" fill="#fff" opacity="0.45"/>
<text x="470" y="957" font-size="16.6" text-anchor="middle" fill="#1a1a1a" textLength="24.6" lengthAdjust="spacingAndGlyphs">0.2</text>
<rect x="543.2" y="912.8" width="1.2" height="21.9" fill="#fff" opacity="0.45"/>
<text x="544.3" y="957" font-size="16.6" text-anchor="middle" fill="#1a1a1a" textLength="24.6" lengthAdjust="spacingAndGlyphs">0.4</text>
<rect x="617.5" y="912.8" width="1.2" height="21.9" fill="#fff" opacity="0.45"/>
<text x="618.6" y="957" font-size="16.6" text-anchor="middle" fill="#1a1a1a" textLength="24.6" lengthAdjust="spacingAndGlyphs">0.6</text>
<rect x="691.8" y="912.8" width="1.2" height="21.9" fill="#fff" opacity="0.45"/>
<text x="692.9" y="957" font-size="16.6" text-anchor="middle" fill="#1a1a1a" textLength="24.6" lengthAdjust="spacingAndGlyphs">0.8</text>
<rect x="766.1" y="912.8" width="1.2" height="21.9" fill="#fff" opacity="0.45"/>
<text x="767.2" y="957" font-size="16.6" text-anchor="middle" fill="#1a1a1a" textLength="24.6" lengthAdjust="spacingAndGlyphs">1.0</text>
<rect x="840.4" y="912.8" width="1.2" height="21.9" fill="#fff" opacity="0.45"/>
<text x="841.5" y="957" font-size="16.6" text-anchor="middle" fill="#1a1a1a" textLength="24.6" lengthAdjust="spacingAndGlyphs">1.2</text>
<rect x="914.7" y="912.8" width="1.2" height="21.9" fill="#fff" opacity="0.45"/>
<text x="915.8" y="957" font-size="16.6" text-anchor="middle" fill="#1a1a1a" textLength="24.6" lengthAdjust="spacingAndGlyphs">1.4</text>
<rect x="989" y="912.8" width="1.2" height="21.9" fill="#fff" opacity="0.45"/>
<text x="990.1" y="957" font-size="16.6" text-anchor="middle" fill="#1a1a1a" textLength="24.6" lengthAdjust="spacingAndGlyphs">1.6</text>
<rect x="1063.3" y="912.8" width="1.2" height="21.9" fill="#fff" opacity="0.45"/>
<text x="1064.4" y="957" font-size="16.6" text-anchor="middle" fill="#1a1a1a" textLength="24.6" lengthAdjust="spacingAndGlyphs">1.8</text>
<rect x="1137.6" y="912.8" width="1.2" height="21.9" fill="#fff" opacity="0.45"/>
<text x="1138.7" y="957" font-size="16.6" text-anchor="middle" fill="#1a1a1a" textLength="24.6" lengthAdjust="spacingAndGlyphs">2.0</text>
</svg></body></html>
